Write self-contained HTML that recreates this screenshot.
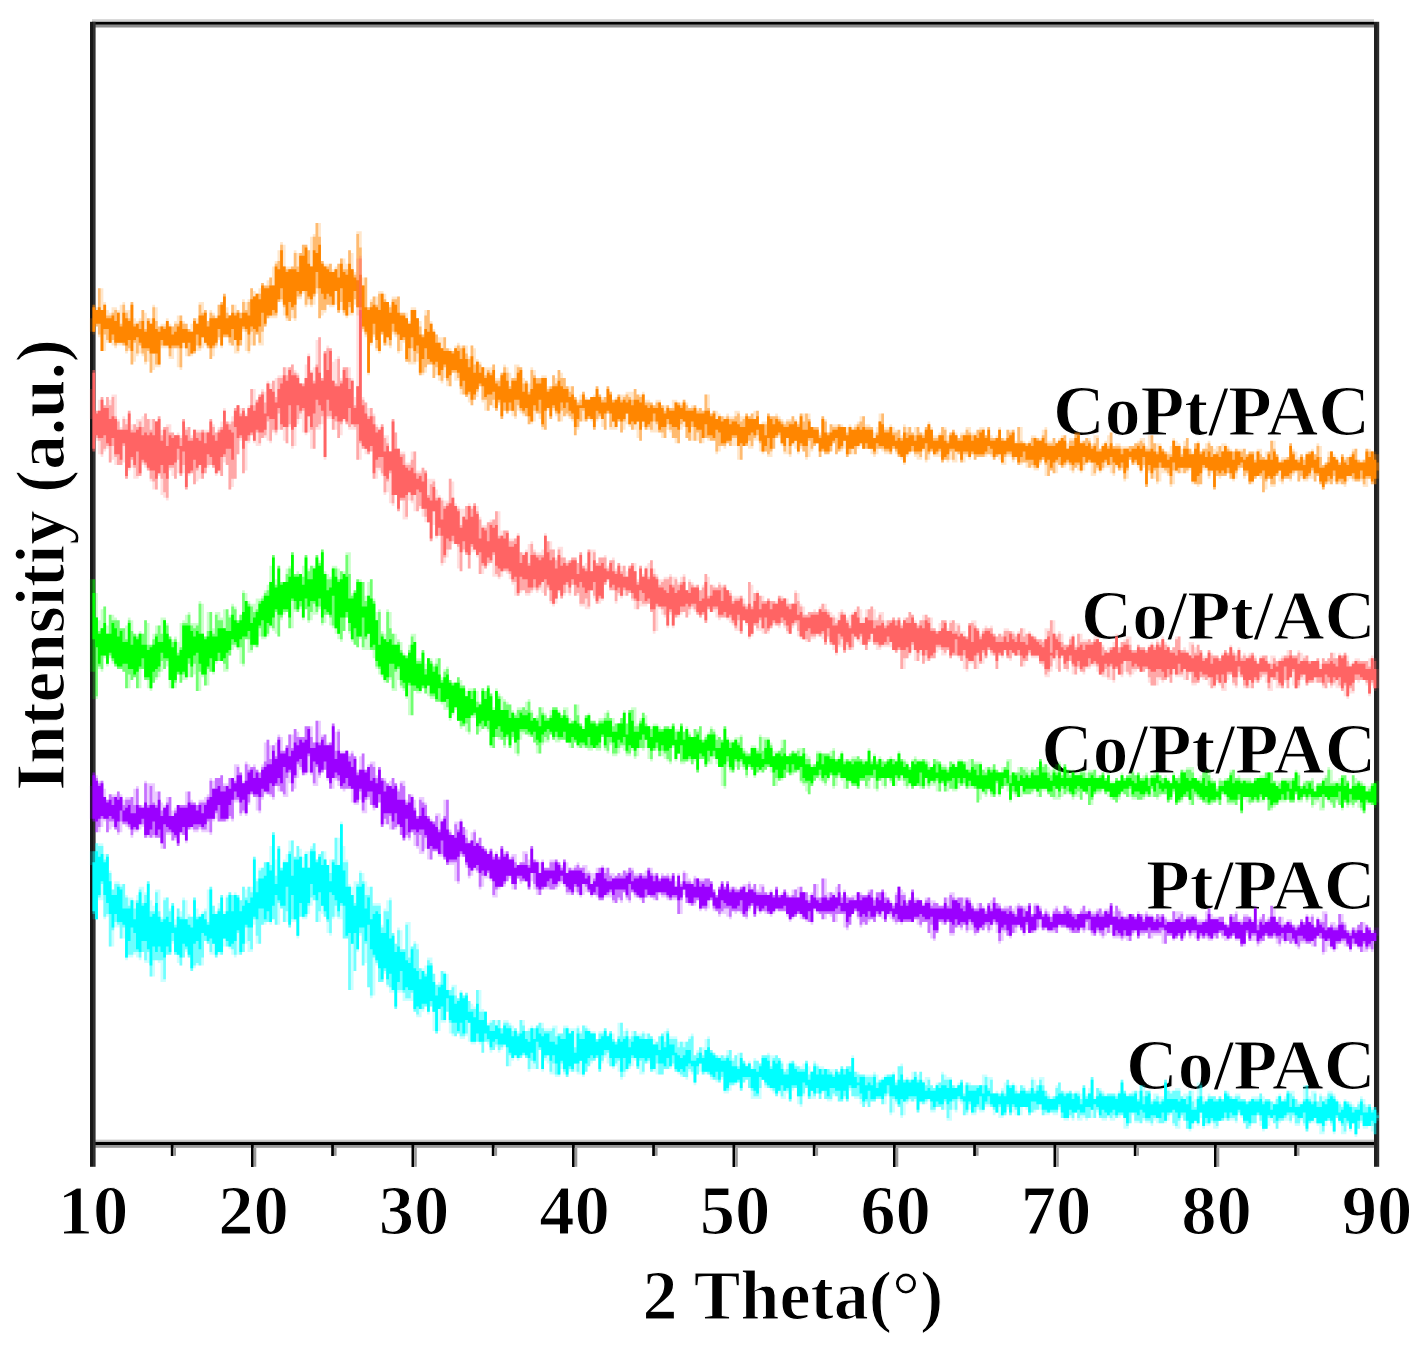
<!DOCTYPE html>
<html><head><meta charset="utf-8"><style>
html,body{margin:0;padding:0;background:#fff;overflow:hidden;}
svg{display:block;filter:blur(0.7px);}
text{font-family:"Liberation Serif",serif;font-weight:bold;stroke:#fff;stroke-width:1.2px;}
</style></head><body>
<svg width="1428" height="1352" viewBox="0 0 1428 1352">
<rect width="1428" height="1352" fill="#fff"/>
<g>
<rect x="92" y="19.2" width="1282" height="2.6" fill="#d2d2d2"/>
<rect x="92" y="21.8" width="1282" height="3" fill="#000"/>
<rect x="95" y="24.8" width="1279" height="2.7" fill="#8c8c8c"/>
<rect x="95" y="1139.6" width="1279" height="2.3" fill="#cacaca"/>
<rect x="92" y="1141.9" width="1282" height="3.1" fill="#000"/>
<rect x="95" y="1145" width="1279" height="2.8" fill="#9a9a9a"/>
<rect x="90" y="21.8" width="3" height="1145" fill="#181818"/>
<rect x="93" y="21.8" width="2.6" height="1145" fill="#303030"/>
<rect x="1374" y="21.8" width="3" height="1145" fill="#202020"/>
<rect x="1377" y="21.8" width="2.2" height="1145" fill="#2c2c2c"/>
</g>
<g><rect x="170.8" y="1145" width="2.7" height="11" fill="#000"/><rect x="173.4" y="1147.8" width="2.6" height="8" fill="#999"/><rect x="251.0" y="1145" width="2.7" height="22" fill="#000"/><rect x="253.7" y="1147.8" width="2.6" height="19" fill="#999"/><rect x="331.2" y="1145" width="2.7" height="11" fill="#000"/><rect x="334.0" y="1147.8" width="2.6" height="8" fill="#999"/><rect x="411.5" y="1145" width="2.7" height="22" fill="#000"/><rect x="414.2" y="1147.8" width="2.6" height="19" fill="#999"/><rect x="491.8" y="1145" width="2.7" height="11" fill="#000"/><rect x="494.5" y="1147.8" width="2.6" height="8" fill="#999"/><rect x="572.0" y="1145" width="2.7" height="22" fill="#000"/><rect x="574.7" y="1147.8" width="2.6" height="19" fill="#999"/><rect x="652.2" y="1145" width="2.7" height="11" fill="#000"/><rect x="655.0" y="1147.8" width="2.6" height="8" fill="#999"/><rect x="732.5" y="1145" width="2.7" height="22" fill="#000"/><rect x="735.2" y="1147.8" width="2.6" height="19" fill="#999"/><rect x="812.8" y="1145" width="2.7" height="11" fill="#000"/><rect x="815.5" y="1147.8" width="2.6" height="8" fill="#999"/><rect x="893.0" y="1145" width="2.7" height="22" fill="#000"/><rect x="895.7" y="1147.8" width="2.6" height="19" fill="#999"/><rect x="973.2" y="1145" width="2.7" height="11" fill="#000"/><rect x="976.0" y="1147.8" width="2.6" height="8" fill="#999"/><rect x="1053.5" y="1145" width="2.7" height="22" fill="#000"/><rect x="1056.2" y="1147.8" width="2.6" height="19" fill="#999"/><rect x="1133.8" y="1145" width="2.7" height="11" fill="#000"/><rect x="1136.4" y="1147.8" width="2.6" height="8" fill="#999"/><rect x="1214.0" y="1145" width="2.7" height="22" fill="#000"/><rect x="1216.7" y="1147.8" width="2.6" height="19" fill="#999"/><rect x="1294.2" y="1145" width="2.7" height="11" fill="#000"/><rect x="1296.9" y="1147.8" width="2.6" height="8" fill="#999"/></g>
<g text-anchor="end">
<text x="1370.1" y="434.5" font-size="71.7">CoPt/PAC</text>
<text x="1375.6" y="638.5" font-size="70.7">Co/Pt/AC</text>
<text x="1376.1" y="772.5" font-size="71.2">Co/Pt/PAC</text>
<text x="1375.6" y="909.0" font-size="71.7">Pt/PAC</text>
<text x="1375.6" y="1089.0" font-size="71.7">Co/PAC</text>
</g>
<g transform="scale(2.72)">
<g fill="#00FFFF"><path fill-opacity="0.20" d="M33 313h1V313h1V310h1V310h1V310h1V314h1V314h1V320h1V327h1V324h1V324h1V325h1V325h1V329h1V330h1V330h1V331h1V329h1V326h1V326h1V328h1V324h1V331h1V333h1V327h1V327h1V337h1V330h1V330h1V334h1V332h1V338h1V334h1V335h1V330h1V331h1V336h1V337h1V330h1V334h1V336h1V335h1V334h1V327h1V326h1V333h1V335h1V332h1V329h1V335h1V329h1V328h1V329h1V328h1V329h1V331h1V326h1V327h1V326h1V326h1V315h1V323h1V319h1V319h1V317h1V317h1V311h1V306h1V316h1V311h1V319h1V316h1V314h1V309h1V309h1V315h1V311h1V312h1V315h1V313h1V313h1V311h1V310h1V316h1V314h1V313h1V313h1V318h1V316h1V316h1V308h1V308h1V302h1V311h1V316h1V325h1V326h1V324h1V324h1V320h1V321h1V324h1V326h1V326h1V332h1V332h1V332h1V340h1V334h1V331h1V330h1V343h1V347h1V341h1V342h1V349h1V339h1V339h1V348h1V346h1V347h1V356h1V356h1V355h1V352h1V352h1V358h1V362h1V361h1V357h1V357h1V358h1V364h1V362h1V362h1V367h1V364h1V366h1V365h1V368h1V369h1V370h1V364h1V364h1V371h1V372h1V376h1V375h1V375h1V375h1V375h1V378h1V375h1V375h1V376h1V377h1V378h1V379h1V375h1V375h1V379h1V378h1V377h1V378h1V377h1V376h1V376h1V378h1V378h1V378h1V377h1V377h1V380h1V380h1V377h1V377h1V378h1V378h1V378h1V377h1V379h1V377h1V377h1V378h1V379h1V379h1V382h1V379h1V379h1V378h1V380h1V379h1V380h1V383h1V376h1V376h1V379h1V378h1V381h1V379h1V379h1V380h1V380h1V379h1V380h1V380h1V381h1V382h1V383h1V381h1V380h1V379h1V378h1V381h1V381h1V381h1V383h1V383h1V383h1V383h1V381h1V380h1V388h1V386h1V385h1V385h1V382h1V381h1V386h1V387h1V388h1V388h1V388h1V388h1V386h1V386h1V389h1V388h1V387h1V387h1V390h1V391h1V390h1V392h1V389h1V390h1V391h1V388h1V388h1V387h1V388h1V388h1V388h1V389h1V390h1V393h1V391h1V390h1V390h1V391h1V392h1V392h1V391h1V390h1V392h1V394h1V390h1V391h1V392h1V392h1V393h1V393h1V393h1V393h1V393h1V394h1V392h1V393h1V392h1V392h1V388h1V394h1V394h1V395h1V395h1V395h1V395h1V395h1V394h1V395h1V397h1V396h1V395h1V395h1V395h1V394h1V397h1V392h1V391h1V397h1V396h1V397h1V394h1V394h1V395h1V394h1V397h1V396h1V396h1V399h1V400h1V398h1V398h1V394h1V395h1V396h1V396h1V399h1V399h1V398h1V397h1V399h1V398h1V398h1V399h1V399h1V399h1V399h1V395h1V395h1V396h1V396h1V402h1V401h1V402h1V400h1V398h1V397h1V399h1V398h1V399h1V401h1V399h1V399h1V401h1V400h1V396h1V397h1V399h1V396h1V396h1V401h1V402h1V403h1V403h1V399h1V398h1V401h1V401h1V401h1V401h1V402h1V401h1V401h1V402h1V399h1V402h1V400h1V396h1V403h1V400h1V400h1V401h1V402h1V402h1V402h1V402h1V402h1V401h1V397h1V401h1V402h1V402h1V401h1V401h1V401h1V399h1V399h1V401h1V401h1V404h1V402h1V402h1V403h1V403h1V397h1V400h1V401h1V401h1V400h1V400h1V403h1V402h1V402h1V401h1V401h1V404h1V398h1V398h1V403h1V404h1V402h1V403h1V403h1V404h1V403h1V404h1V401h1V401h1V403h1V403h1V402h1V402h1V404h1V404h1V405h1V404h1V403h1V403h1V403h1V402h1V403h1V404h1V404h1V405h1V405h1V403h1V402h1V404h1V403h1V401h1V401h1V401h1V404h1V405h1V405h1V399h1V399h1V403h1V401h1V401h1V405h1V402h1V403h1V403h1V401h1V401h1V402h1V404h1V405h1V406h1V404h1V405h1V405h1V406h1V407h1V405h1V403h1V404h1V406h1V406h1V407h1V407h1V409h1V412h-1V417h-1V416h-1V414h-1V415h-1V415h-1V413h-1V415h-1V418h-1V413h-1V416h-1V414h-1V417h-1V417h-1V413h-1V411h-1V417h-1V414h-1V412h-1V414h-1V417h-1V417h-1V414h-1V413h-1V413h-1V413h-1V416h-1V414h-1V412h-1V414h-1V414h-1V411h-1V413h-1V412h-1V412h-1V412h-1V413h-1V415h-1V413h-1V412h-1V414h-1V415h-1V416h-1V414h-1V410h-1V413h-1V413h-1V415h-1V415h-1V413h-1V411h-1V410h-1V413h-1V412h-1V412h-1V412h-1V412h-1V412h-1V412h-1V415h-1V415h-1V413h-1V414h-1V414h-1V415h-1V411h-1V414h-1V413h-1V415h-1V416h-1V415h-1V412h-1V411h-1V415h-1V415h-1V414h-1V410h-1V412h-1V413h-1V413h-1V413h-1V413h-1V412h-1V414h-1V413h-1V413h-1V412h-1V413h-1V413h-1V413h-1V410h-1V413h-1V415h-1V415h-1V410h-1V411h-1V411h-1V412h-1V412h-1V411h-1V412h-1V412h-1V411h-1V409h-1V411h-1V411h-1V411h-1V412h-1V411h-1V412h-1V412h-1V409h-1V412h-1V411h-1V412h-1V412h-1V411h-1V408h-1V410h-1V410h-1V409h-1V410h-1V410h-1V410h-1V408h-1V408h-1V409h-1V409h-1V410h-1V408h-1V407h-1V410h-1V410h-1V410h-1V409h-1V410h-1V408h-1V410h-1V411h-1V411h-1V409h-1V410h-1V407h-1V407h-1V407h-1V409h-1V409h-1V408h-1V410h-1V410h-1V408h-1V410h-1V410h-1V406h-1V405h-1V409h-1V408h-1V412h-1V412h-1V408h-1V408h-1V407h-1V407h-1V409h-1V409h-1V405h-1V406h-1V406h-1V406h-1V409h-1V405h-1V405h-1V405h-1V406h-1V410h-1V411h-1V407h-1V406h-1V409h-1V410h-1V403h-1V406h-1V406h-1V404h-1V404h-1V405h-1V405h-1V407h-1V406h-1V407h-1V406h-1V404h-1V404h-1V403h-1V401h-1V405h-1V404h-1V405h-1V405h-1V403h-1V403h-1V405h-1V405h-1V404h-1V402h-1V404h-1V402h-1V404h-1V404h-1V404h-1V400h-1V403h-1V407h-1V406h-1V400h-1V401h-1V405h-1V402h-1V404h-1V404h-1V402h-1V403h-1V402h-1V401h-1V400h-1V400h-1V397h-1V404h-1V404h-1V404h-1V404h-1V400h-1V397h-1V398h-1V401h-1V398h-1V399h-1V399h-1V401h-1V402h-1V402h-1V397h-1V398h-1V398h-1V397h-1V397h-1V395h-1V395h-1V395h-1V394h-1V395h-1V399h-1V395h-1V394h-1V397h-1V396h-1V396h-1V395h-1V394h-1V392h-1V393h-1V393h-1V393h-1V395h-1V395h-1V395h-1V394h-1V394h-1V391h-1V391h-1V395h-1V395h-1V393h-1V390h-1V392h-1V393h-1V394h-1V396h-1V397h-1V394h-1V392h-1V393h-1V392h-1V391h-1V389h-1V391h-1V394h-1V389h-1V390h-1V391h-1V392h-1V394h-1V396h-1V395h-1V395h-1V394h-1V394h-1V394h-1V396h-1V395h-1V393h-1V396h-1V396h-1V395h-1V395h-1V391h-1V390h-1V394h-1V386h-1V393h-1V393h-1V393h-1V394h-1V389h-1V388h-1V389h-1V390h-1V389h-1V390h-1V392h-1V392h-1V385h-1V386h-1V387h-1V385h-1V386h-1V387h-1V384h-1V383h-1V387h-1V384h-1V383h-1V384h-1V384h-1V383h-1V381h-1V382h-1V382h-1V380h-1V381h-1V381h-1V380h-1V372h-1V376h-1V376h-1V379h-1V380h-1V379h-1V370h-1V373h-1V370h-1V372h-1V374h-1V374h-1V372h-1V368h-1V368h-1V368h-1V368h-1V365h-1V365h-1V371h-1V365h-1V365h-1V363h-1V358h-1V361h-1V361h-1V355h-1V366h-1V367h-1V363h-1V354h-1V355h-1V344h-1V350h-1V357h-1V364h-1V364h-1V345h-1V345h-1V338h-1V338h-1V337h-1V338h-1V344h-1V343h-1V337h-1V336h-1V339h-1V339h-1V331h-1V333h-1V336h-1V338h-1V338h-1V337h-1V345h-1V339h-1V339h-1V341h-1V339h-1V339h-1V334h-1V340h-1V340h-1V338h-1V340h-1V339h-1V340h-1V340h-1V347h-1V347h-1V340h-1V350h-1V350h-1V347h-1V350h-1V351h-1V351h-1V352h-1V351h-1V349h-1V348h-1V348h-1V351h-1V351h-1V352h-1V351h-1V351h-1V347h-1V346h-1V355h-1V355h-1V355h-1V356h-1V357h-1V352h-1V350h-1V352h-1V355h-1V354h-1V351h-1V347h-1V351h-1V351h-1V361h-1V361h-1V354h-1V353h-1V359h-1V359h-1V354h-1V354h-1V350h-1V353h-1V352h-1V351h-1V352h-1V352h-1V353h-1V345h-1V345h-1V341h-1V341h-1V348h-1V348h-1V337h-1V338h-1V331h-1V331h-1V338h-1V338h-1V318h-1Z"/><path fill-opacity="0.45" d="M34 313h1V310h1V311h1V311h1V316h1V314h1V321h1V327h1V325h1V325h1V326h1V325h1V330h1V333h1V331h1V334h1V331h1V327h1V332h1V329h1V324h1V335h1V335h1V328h1V335h1V338h1V331h1V330h1V335h1V332h1V340h1V334h1V337h1V331h1V338h1V337h1V337h1V330h1V337h1V337h1V336h1V335h1V339h1V326h1V333h1V336h1V334h1V329h1V336h1V330h1V328h1V329h1V329h1V329h1V331h1V326h1V330h1V326h1V328h1V315h1V324h1V320h1V319h1V317h1V317h1V318h1V306h1V322h1V311h1V319h1V317h1V317h1V313h1V309h1V315h1V311h1V315h1V319h1V314h1V319h1V312h1V310h1V316h1V314h1V313h1V316h1V318h1V321h1V316h1V308h1V318h1V303h1V317h1V317h1V326h1V329h1V332h1V325h1V321h1V324h1V329h1V329h1V326h1V333h1V333h1V333h1V341h1V335h1V335h1V331h1V343h1V347h1V342h1V349h1V349h1V340h1V352h1V348h1V347h1V349h1V356h1V357h1V358h1V353h1V354h1V358h1V362h1V362h1V357h1V358h1V364h1V364h1V363h1V366h1V367h1V365h1V366h1V365h1V368h1V371h1V371h1V364h1V372h1V372h1V372h1V377h1V376h1V375h1V377h1V375h1V378h1V376h1V376h1V377h1V379h1V378h1V380h1V375h1V377h1V379h1V379h1V378h1V378h1V377h1V376h1V378h1V379h1V379h1V379h1V378h1V381h1V380h1V380h1V378h1V378h1V380h1V379h1V385h1V378h1V380h1V377h1V378h1V379h1V380h1V380h1V382h1V380h1V380h1V378h1V381h1V379h1V382h1V383h1V381h1V376h1V381h1V379h1V382h1V381h1V379h1V381h1V381h1V380h1V382h1V380h1V381h1V384h1V383h1V381h1V380h1V383h1V379h1V382h1V382h1V382h1V385h1V383h1V385h1V383h1V382h1V381h1V388h1V387h1V385h1V388h1V386h1V382h1V386h1V387h1V388h1V389h1V388h1V389h1V388h1V386h1V390h1V388h1V392h1V387h1V390h1V392h1V391h1V393h1V390h1V390h1V391h1V388h1V388h1V388h1V392h1V389h1V388h1V389h1V391h1V394h1V393h1V391h1V390h1V392h1V392h1V393h1V393h1V390h1V395h1V394h1V391h1V392h1V393h1V393h1V393h1V393h1V394h1V395h1V393h1V394h1V392h1V393h1V392h1V392h1V389h1V394h1V395h1V395h1V395h1V396h1V396h1V396h1V395h1V398h1V397h1V397h1V396h1V395h1V395h1V395h1V398h1V392h1V392h1V397h1V397h1V397h1V397h1V394h1V397h1V394h1V398h1V399h1V397h1V399h1V400h1V399h1V398h1V395h1V397h1V397h1V397h1V399h1V400h1V399h1V397h1V402h1V398h1V399h1V399h1V399h1V399h1V399h1V399h1V396h1V400h1V397h1V402h1V402h1V402h1V401h1V402h1V397h1V399h1V399h1V401h1V402h1V399h1V400h1V401h1V401h1V397h1V401h1V399h1V397h1V399h1V401h1V403h1V404h1V403h1V400h1V398h1V401h1V402h1V402h1V401h1V402h1V402h1V402h1V404h1V399h1V403h1V402h1V396h1V404h1V400h1V401h1V402h1V403h1V402h1V402h1V402h1V403h1V402h1V397h1V401h1V403h1V402h1V402h1V401h1V404h1V399h1V403h1V401h1V401h1V405h1V404h1V403h1V405h1V404h1V397h1V401h1V402h1V401h1V401h1V401h1V403h1V404h1V403h1V401h1V405h1V407h1V403h1V399h1V405h1V405h1V403h1V403h1V403h1V404h1V403h1V404h1V401h1V402h1V403h1V404h1V403h1V403h1V404h1V404h1V405h1V405h1V404h1V404h1V404h1V402h1V405h1V404h1V404h1V405h1V406h1V404h1V403h1V405h1V404h1V401h1V402h1V403h1V404h1V406h1V406h1V404h1V399h1V404h1V405h1V402h1V405h1V403h1V405h1V404h1V402h1V402h1V403h1V405h1V406h1V407h1V405h1V405h1V406h1V407h1V407h1V406h1V404h1V406h1V407h1V406h1V408h1V407h1V410h1V411h-1V417h-1V414h-1V414h-1V414h-1V414h-1V412h-1V415h-1V417h-1V413h-1V415h-1V413h-1V416h-1V414h-1V412h-1V411h-1V416h-1V413h-1V412h-1V412h-1V416h-1V413h-1V413h-1V411h-1V412h-1V413h-1V416h-1V413h-1V411h-1V413h-1V413h-1V410h-1V412h-1V410h-1V411h-1V412h-1V412h-1V415h-1V413h-1V411h-1V411h-1V415h-1V415h-1V412h-1V410h-1V413h-1V413h-1V414h-1V415h-1V413h-1V410h-1V409h-1V412h-1V411h-1V411h-1V412h-1V411h-1V412h-1V412h-1V414h-1V413h-1V412h-1V413h-1V413h-1V414h-1V409h-1V413h-1V412h-1V413h-1V415h-1V415h-1V412h-1V410h-1V412h-1V414h-1V413h-1V409h-1V410h-1V412h-1V413h-1V413h-1V411h-1V411h-1V413h-1V412h-1V412h-1V411h-1V413h-1V412h-1V412h-1V409h-1V413h-1V414h-1V411h-1V410h-1V410h-1V411h-1V410h-1V411h-1V410h-1V411h-1V411h-1V411h-1V408h-1V411h-1V408h-1V411h-1V411h-1V410h-1V410h-1V411h-1V409h-1V411h-1V410h-1V411h-1V411h-1V411h-1V407h-1V409h-1V409h-1V409h-1V409h-1V409h-1V410h-1V406h-1V408h-1V408h-1V409h-1V410h-1V407h-1V407h-1V407h-1V410h-1V408h-1V407h-1V410h-1V407h-1V410h-1V410h-1V407h-1V409h-1V408h-1V407h-1V406h-1V406h-1V408h-1V408h-1V407h-1V409h-1V409h-1V406h-1V409h-1V410h-1V405h-1V404h-1V408h-1V405h-1V408h-1V411h-1V405h-1V408h-1V407h-1V407h-1V408h-1V408h-1V404h-1V405h-1V406h-1V405h-1V409h-1V404h-1V405h-1V404h-1V405h-1V405h-1V410h-1V407h-1V405h-1V404h-1V409h-1V402h-1V403h-1V406h-1V404h-1V404h-1V405h-1V405h-1V407h-1V405h-1V407h-1V404h-1V403h-1V403h-1V403h-1V400h-1V405h-1V403h-1V405h-1V405h-1V403h-1V402h-1V404h-1V404h-1V404h-1V401h-1V404h-1V402h-1V403h-1V401h-1V404h-1V400h-1V402h-1V406h-1V403h-1V400h-1V400h-1V405h-1V401h-1V401h-1V403h-1V401h-1V403h-1V401h-1V400h-1V400h-1V399h-1V397h-1V400h-1V403h-1V403h-1V401h-1V400h-1V397h-1V398h-1V401h-1V398h-1V398h-1V399h-1V399h-1V401h-1V401h-1V396h-1V398h-1V397h-1V397h-1V396h-1V395h-1V394h-1V395h-1V391h-1V395h-1V398h-1V394h-1V393h-1V396h-1V396h-1V395h-1V394h-1V394h-1V391h-1V392h-1V393h-1V393h-1V395h-1V395h-1V391h-1V393h-1V394h-1V390h-1V391h-1V394h-1V390h-1V393h-1V389h-1V389h-1V392h-1V393h-1V394h-1V396h-1V390h-1V391h-1V392h-1V392h-1V387h-1V388h-1V390h-1V394h-1V389h-1V390h-1V390h-1V392h-1V394h-1V395h-1V390h-1V394h-1V391h-1V394h-1V393h-1V396h-1V394h-1V391h-1V395h-1V395h-1V391h-1V394h-1V388h-1V389h-1V393h-1V386h-1V393h-1V391h-1V390h-1V393h-1V389h-1V388h-1V389h-1V389h-1V388h-1V389h-1V388h-1V392h-1V384h-1V385h-1V386h-1V384h-1V386h-1V386h-1V383h-1V383h-1V387h-1V383h-1V383h-1V383h-1V383h-1V376h-1V380h-1V381h-1V381h-1V380h-1V381h-1V380h-1V376h-1V372h-1V375h-1V375h-1V371h-1V380h-1V372h-1V370h-1V372h-1V370h-1V371h-1V371h-1V373h-1V372h-1V365h-1V367h-1V367h-1V365h-1V364h-1V364h-1V371h-1V364h-1V363h-1V362h-1V357h-1V361h-1V361h-1V354h-1V352h-1V366h-1V363h-1V347h-1V355h-1V343h-1V349h-1V357h-1V347h-1V364h-1V345h-1V345h-1V333h-1V337h-1V333h-1V337h-1V343h-1V339h-1V337h-1V333h-1V335h-1V339h-1V331h-1V330h-1V333h-1V337h-1V337h-1V337h-1V344h-1V338h-1V338h-1V341h-1V335h-1V339h-1V334h-1V332h-1V340h-1V338h-1V339h-1V339h-1V339h-1V340h-1V347h-1V344h-1V338h-1V349h-1V346h-1V341h-1V350h-1V351h-1V343h-1V351h-1V349h-1V348h-1V348h-1V345h-1V351h-1V350h-1V352h-1V347h-1V350h-1V347h-1V346h-1V352h-1V355h-1V354h-1V355h-1V357h-1V352h-1V349h-1V352h-1V355h-1V351h-1V351h-1V346h-1V351h-1V351h-1V360h-1V353h-1V353h-1V353h-1V353h-1V359h-1V350h-1V353h-1V350h-1V352h-1V350h-1V350h-1V351h-1V351h-1V352h-1V341h-1V345h-1V340h-1V339h-1V342h-1V348h-1V336h-1V337h-1V325h-1V330h-1V338h-1V336h-1Z"/><path d="M34 317h1V313h1V315h1V314h1V317h1V315h1V324h1V329h1V329h1V326h1V327h1V334h1V334h1V334h1V331h1V338h1V332h1V328h1V333h1V332h1V325h1V337h1V336h1V332h1V337h1V339h1V338h1V337h1V339h1V333h1V341h1V337h1V338h1V338h1V338h1V340h1V341h1V331h1V338h1V337h1V336h1V338h1V340h1V327h1V336h1V336h1V335h1V330h1V336h1V335h1V329h1V335h1V329h1V330h1V335h1V333h1V331h1V332h1V330h1V316h1V328h1V323h1V323h1V322h1V317h1V320h1V307h1V325h1V312h1V320h1V317h1V317h1V314h1V322h1V316h1V316h1V315h1V319h1V314h1V319h1V313h1V313h1V317h1V315h1V318h1V316h1V318h1V324h1V317h1V318h1V318h1V303h1V320h1V326h1V326h1V329h1V333h1V326h1V326h1V325h1V334h1V330h1V338h1V336h1V335h1V336h1V343h1V343h1V338h1V345h1V344h1V350h1V348h1V350h1V350h1V353h1V354h1V349h1V356h1V357h1V360h1V357h1V359h1V355h1V355h1V361h1V366h1V363h1V362h1V358h1V364h1V366h1V366h1V369h1V368h1V365h1V367h1V366h1V372h1V372h1V374h1V369h1V375h1V375h1V372h1V377h1V379h1V379h1V377h1V378h1V380h1V377h1V378h1V378h1V381h1V379h1V381h1V380h1V379h1V382h1V383h1V378h1V382h1V378h1V380h1V381h1V380h1V380h1V383h1V383h1V384h1V381h1V382h1V382h1V378h1V380h1V379h1V387h1V380h1V382h1V382h1V379h1V379h1V380h1V380h1V383h1V382h1V381h1V379h1V381h1V380h1V383h1V384h1V382h1V383h1V382h1V381h1V385h1V383h1V381h1V381h1V382h1V382h1V382h1V382h1V382h1V384h1V384h1V386h1V381h1V385h1V380h1V384h1V384h1V387h1V388h1V389h1V388h1V386h1V386h1V390h1V390h1V389h1V387h1V389h1V386h1V385h1V387h1V388h1V389h1V389h1V390h1V390h1V389h1V390h1V392h1V392h1V393h1V389h1V391h1V392h1V391h1V393h1V393h1V394h1V392h1V389h1V389h1V390h1V393h1V390h1V391h1V390h1V393h1V395h1V395h1V391h1V391h1V393h1V394h1V394h1V394h1V391h1V397h1V394h1V392h1V395h1V393h1V395h1V393h1V395h1V395h1V396h1V394h1V395h1V393h1V395h1V393h1V394h1V389h1V396h1V398h1V396h1V396h1V399h1V398h1V399h1V396h1V400h1V398h1V397h1V396h1V396h1V396h1V395h1V399h1V397h1V395h1V398h1V397h1V398h1V397h1V396h1V398h1V397h1V398h1V401h1V400h1V401h1V401h1V399h1V400h1V399h1V399h1V400h1V397h1V400h1V400h1V399h1V398h1V403h1V399h1V401h1V401h1V401h1V400h1V399h1V402h1V399h1V401h1V402h1V402h1V402h1V403h1V402h1V403h1V399h1V400h1V399h1V402h1V402h1V401h1V401h1V402h1V402h1V400h1V402h1V401h1V399h1V401h1V403h1V404h1V404h1V404h1V403h1V402h1V402h1V403h1V402h1V402h1V404h1V402h1V403h1V406h1V400h1V404h1V402h1V397h1V404h1V403h1V402h1V403h1V403h1V403h1V403h1V403h1V404h1V402h1V398h1V402h1V403h1V403h1V403h1V402h1V405h1V401h1V406h1V403h1V402h1V406h1V405h1V405h1V406h1V405h1V398h1V404h1V404h1V404h1V404h1V405h1V404h1V404h1V406h1V403h1V408h1V408h1V404h1V403h1V406h1V405h1V404h1V404h1V405h1V405h1V404h1V405h1V402h1V403h1V404h1V404h1V404h1V405h1V405h1V405h1V406h1V405h1V404h1V405h1V405h1V404h1V406h1V405h1V405h1V408h1V406h1V406h1V403h1V405h1V405h1V402h1V407h1V404h1V407h1V407h1V406h1V405h1V404h1V405h1V406h1V405h1V407h1V407h1V405h1V406h1V404h1V403h1V404h1V405h1V409h1V408h1V405h1V406h1V407h1V409h1V408h1V408h1V405h1V409h1V409h1V407h1V409h1V408h1V413h-1V412h-1V414h-1V414h-1V414h-1V410h-1V412h-1V417h-1V413h-1V415h-1V412h-1V411h-1V413h-1V412h-1V410h-1V416h-1V412h-1V411h-1V412h-1V414h-1V413h-1V413h-1V411h-1V412h-1V412h-1V415h-1V409h-1V411h-1V411h-1V410h-1V409h-1V409h-1V409h-1V410h-1V411h-1V411h-1V412h-1V410h-1V411h-1V410h-1V415h-1V415h-1V410h-1V409h-1V410h-1V410h-1V413h-1V412h-1V412h-1V410h-1V408h-1V410h-1V410h-1V409h-1V411h-1V409h-1V411h-1V412h-1V412h-1V412h-1V411h-1V413h-1V411h-1V414h-1V409h-1V413h-1V412h-1V413h-1V415h-1V412h-1V409h-1V409h-1V411h-1V409h-1V408h-1V409h-1V409h-1V412h-1V409h-1V411h-1V411h-1V410h-1V410h-1V411h-1V411h-1V409h-1V408h-1V410h-1V409h-1V409h-1V409h-1V413h-1V411h-1V409h-1V409h-1V410h-1V408h-1V409h-1V410h-1V409h-1V408h-1V410h-1V407h-1V406h-1V408h-1V407h-1V407h-1V409h-1V409h-1V408h-1V409h-1V409h-1V408h-1V411h-1V411h-1V409h-1V406h-1V408h-1V408h-1V408h-1V409h-1V408h-1V408h-1V406h-1V406h-1V405h-1V405h-1V409h-1V407h-1V407h-1V407h-1V410h-1V407h-1V406h-1V409h-1V406h-1V409h-1V410h-1V406h-1V409h-1V407h-1V406h-1V403h-1V405h-1V408h-1V403h-1V406h-1V407h-1V409h-1V405h-1V408h-1V405h-1V404h-1V403h-1V404h-1V404h-1V405h-1V406h-1V404h-1V406h-1V406h-1V405h-1V407h-1V405h-1V404h-1V404h-1V405h-1V405h-1V408h-1V403h-1V403h-1V403h-1V404h-1V405h-1V404h-1V406h-1V404h-1V403h-1V403h-1V399h-1V402h-1V404h-1V403h-1V403h-1V404h-1V404h-1V401h-1V404h-1V405h-1V402h-1V399h-1V400h-1V400h-1V399h-1V404h-1V401h-1V404h-1V401h-1V401h-1V400h-1V400h-1V403h-1V401h-1V401h-1V402h-1V400h-1V402h-1V401h-1V403h-1V399h-1V398h-1V403h-1V403h-1V399h-1V399h-1V404h-1V400h-1V401h-1V399h-1V401h-1V402h-1V400h-1V400h-1V399h-1V398h-1V397h-1V396h-1V402h-1V401h-1V400h-1V396h-1V396h-1V396h-1V400h-1V397h-1V398h-1V398h-1V398h-1V400h-1V401h-1V394h-1V397h-1V394h-1V396h-1V395h-1V394h-1V394h-1V394h-1V391h-1V392h-1V398h-1V392h-1V391h-1V392h-1V394h-1V393h-1V394h-1V393h-1V388h-1V392h-1V389h-1V392h-1V391h-1V391h-1V388h-1V393h-1V393h-1V389h-1V390h-1V389h-1V389h-1V392h-1V389h-1V388h-1V391h-1V393h-1V389h-1V394h-1V389h-1V389h-1V392h-1V389h-1V386h-1V386h-1V388h-1V393h-1V388h-1V389h-1V388h-1V389h-1V391h-1V395h-1V390h-1V391h-1V391h-1V393h-1V392h-1V395h-1V393h-1V390h-1V395h-1V391h-1V388h-1V390h-1V388h-1V388h-1V393h-1V385h-1V383h-1V390h-1V387h-1V389h-1V388h-1V387h-1V388h-1V389h-1V388h-1V389h-1V387h-1V385h-1V384h-1V384h-1V384h-1V382h-1V383h-1V385h-1V382h-1V380h-1V383h-1V383h-1V380h-1V383h-1V383h-1V376h-1V375h-1V380h-1V376h-1V379h-1V376h-1V376h-1V375h-1V367h-1V375h-1V370h-1V371h-1V379h-1V372h-1V368h-1V372h-1V369h-1V369h-1V371h-1V370h-1V371h-1V364h-1V364h-1V363h-1V364h-1V357h-1V361h-1V370h-1V364h-1V358h-1V360h-1V356h-1V360h-1V356h-1V353h-1V351h-1V349h-1V340h-1V346h-1V341h-1V341h-1V349h-1V343h-1V347h-1V343h-1V344h-1V333h-1V332h-1V335h-1V331h-1V329h-1V328h-1V338h-1V335h-1V333h-1V328h-1V331h-1V329h-1V325h-1V332h-1V336h-1V337h-1V332h-1V344h-1V338h-1V329h-1V340h-1V326h-1V333h-1V333h-1V331h-1V329h-1V333h-1V339h-1V335h-1V338h-1V334h-1V334h-1V338h-1V337h-1V341h-1V341h-1V340h-1V347h-1V350h-1V342h-1V346h-1V347h-1V348h-1V346h-1V345h-1V350h-1V350h-1V351h-1V347h-1V345h-1V346h-1V344h-1V343h-1V349h-1V346h-1V347h-1V356h-1V351h-1V348h-1V347h-1V352h-1V351h-1V350h-1V343h-1V350h-1V348h-1V352h-1V350h-1V348h-1V350h-1V348h-1V355h-1V349h-1V346h-1V346h-1V350h-1V349h-1V343h-1V341h-1V346h-1V352h-1V340h-1V339h-1V339h-1V336h-1V341h-1V336h-1V332h-1V329h-1V324h-1V329h-1V338h-1V335h-1Z"/></g>
<g fill="#9B00FF"><path fill-opacity="0.20" d="M33 289h1V284h1V285h1V287h1V287h1V290h1V294h1V292h1V292h1V292h1V291h1V292h1V294h1V293h1V293h1V293h1V290h1V289h1V296h1V296h1V287h1V288h1V288h1V288h1V291h1V291h1V295h1V296h1V293h1V293h1V298h1V297h1V296h1V296h1V296h1V291h1V291h1V294h1V295h1V296h1V294h1V294h1V293h1V292h1V286h1V287h1V286h1V286h1V285h1V288h1V288h1V286h1V286h1V281h1V281h1V284h1V287h1V280h1V281h1V282h1V281h1V283h1V284h1V281h1V273h1V272h1V274h1V274h1V273h1V270h1V271h1V276h1V274h1V270h1V270h1V268h1V269h1V271h1V271h1V267h1V267h1V267h1V273h1V265h1V265h1V270h1V270h1V273h1V273h1V266h1V269h1V268h1V276h1V276h1V276h1V277h1V276h1V278h1V283h1V278h1V277h1V283h1V281h1V280h1V280h1V285h1V282h1V286h1V286h1V288h1V287h1V286h1V288h1V290h1V287h1V287h1V294h1V292h1V292h1V294h1V300h1V293h1V293h1V295h1V300h1V301h1V302h1V299h1V299h1V301h1V294h1V294h1V305h1V307h1V302h1V302h1V301h1V304h1V305h1V309h1V306h1V305h1V309h1V308h1V311h1V312h1V313h1V312h1V314h1V313h1V315h1V311h1V313h1V313h1V315h1V314h1V314h1V318h1V317h1V313h1V313h1V316h1V311h1V316h1V316h1V317h1V316h1V319h1V319h1V316h1V316h1V316h1V317h1V318h1V316h1V317h1V319h1V319h1V318h1V317h1V319h1V318h1V318h1V320h1V321h1V321h1V319h1V319h1V318h1V319h1V319h1V321h1V321h1V322h1V321h1V321h1V320h1V320h1V319h1V319h1V321h1V321h1V321h1V321h1V320h1V319h1V319h1V321h1V321h1V323h1V321h1V322h1V321h1V322h1V321h1V324h1V321h1V324h1V320h1V321h1V323h1V324h1V322h1V323h1V323h1V323h1V323h1V323h1V324h1V327h1V329h1V326h1V324h1V326h1V324h1V326h1V326h1V326h1V327h1V326h1V325h1V325h1V324h1V326h1V325h1V327h1V325h1V325h1V328h1V328h1V327h1V329h1V326h1V329h1V328h1V327h1V328h1V329h1V327h1V327h1V326h1V326h1V328h1V328h1V329h1V328h1V325h1V325h1V330h1V323h1V323h1V328h1V328h1V328h1V326h1V325h1V329h1V327h1V329h1V330h1V329h1V329h1V328h1V328h1V329h1V329h1V327h1V327h1V330h1V328h1V328h1V327h1V328h1V330h1V331h1V332h1V328h1V326h1V327h1V328h1V331h1V330h1V327h1V330h1V330h1V331h1V332h1V330h1V330h1V331h1V331h1V332h1V333h1V333h1V330h1V330h1V328h1V328h1V330h1V330h1V330h1V330h1V330h1V330h1V332h1V334h1V332h1V332h1V333h1V334h1V332h1V331h1V330h1V332h1V332h1V334h1V333h1V333h1V333h1V334h1V333h1V332h1V333h1V333h1V333h1V332h1V336h1V332h1V332h1V333h1V336h1V334h1V335h1V337h1V334h1V333h1V335h1V335h1V333h1V333h1V334h1V335h1V336h1V336h1V334h1V333h1V335h1V334h1V335h1V335h1V334h1V334h1V335h1V334h1V334h1V332h1V335h1V333h1V334h1V335h1V337h1V336h1V336h1V336h1V337h1V335h1V336h1V336h1V335h1V336h1V336h1V337h1V336h1V336h1V336h1V337h1V338h1V338h1V335h1V335h1V335h1V335h1V338h1V336h1V336h1V336h1V336h1V338h1V338h1V338h1V335h1V334h1V336h1V337h1V337h1V337h1V337h1V339h1V340h1V336h1V336h1V335h1V338h1V338h1V336h1V336h1V337h1V338h1V333h1V338h1V337h1V336h1V338h1V337h1V333h1V334h1V338h1V337h1V337h1V339h1V338h1V338h1V340h1V340h1V340h1V338h1V339h1V336h1V337h1V336h1V340h1V337h1V338h1V335h1V335h1V341h1V339h1V339h1V340h1V336h1V336h1V339h1V342h1V342h1V341h1V341h1V340h1V339h1V339h1V340h1V341h1V342h1V341h1V341h1V344h-1V347h-1V350h-1V349h-1V350h-1V350h-1V350h-1V349h-1V348h-1V348h-1V350h-1V348h-1V348h-1V347h-1V347h-1V349h-1V350h-1V349h-1V348h-1V350h-1V351h-1V345h-1V345h-1V348h-1V348h-1V347h-1V347h-1V347h-1V347h-1V349h-1V348h-1V347h-1V347h-1V346h-1V347h-1V346h-1V348h-1V347h-1V345h-1V345h-1V345h-1V344h-1V346h-1V347h-1V348h-1V346h-1V346h-1V346h-1V344h-1V348h-1V348h-1V346h-1V346h-1V344h-1V345h-1V346h-1V346h-1V345h-1V343h-1V345h-1V345h-1V346h-1V346h-1V345h-1V345h-1V345h-1V346h-1V345h-1V344h-1V345h-1V343h-1V345h-1V346h-1V344h-1V345h-1V346h-1V344h-1V344h-1V347h-1V347h-1V344h-1V344h-1V344h-1V345h-1V345h-1V343h-1V344h-1V344h-1V345h-1V343h-1V344h-1V346h-1V346h-1V345h-1V346h-1V345h-1V345h-1V345h-1V343h-1V343h-1V344h-1V345h-1V344h-1V343h-1V344h-1V344h-1V342h-1V342h-1V343h-1V342h-1V343h-1V343h-1V343h-1V343h-1V342h-1V341h-1V341h-1V341h-1V343h-1V343h-1V343h-1V343h-1V342h-1V342h-1V341h-1V342h-1V343h-1V343h-1V343h-1V342h-1V344h-1V342h-1V341h-1V343h-1V343h-1V345h-1V344h-1V343h-1V346h-1V347h-1V343h-1V340h-1V342h-1V343h-1V341h-1V342h-1V342h-1V343h-1V344h-1V342h-1V342h-1V343h-1V340h-1V342h-1V341h-1V341h-1V344h-1V344h-1V339h-1V340h-1V340h-1V339h-1V343h-1V346h-1V345h-1V343h-1V339h-1V339h-1V341h-1V340h-1V338h-1V339h-1V339h-1V339h-1V339h-1V340h-1V339h-1V340h-1V339h-1V338h-1V337h-1V339h-1V338h-1V337h-1V337h-1V339h-1V338h-1V339h-1V340h-1V340h-1V341h-1V338h-1V335h-1V336h-1V340h-1V342h-1V341h-1V336h-1V336h-1V339h-1V339h-1V337h-1V336h-1V338h-1V338h-1V336h-1V336h-1V335h-1V340h-1V339h-1V339h-1V338h-1V338h-1V336h-1V337h-1V338h-1V339h-1V337h-1V335h-1V335h-1V335h-1V335h-1V336h-1V337h-1V336h-1V336h-1V335h-1V336h-1V335h-1V337h-1V333h-1V335h-1V338h-1V337h-1V336h-1V335h-1V336h-1V335h-1V338h-1V337h-1V336h-1V336h-1V337h-1V335h-1V335h-1V331h-1V334h-1V335h-1V334h-1V335h-1V331h-1V333h-1V333h-1V333h-1V332h-1V329h-1V336h-1V336h-1V331h-1V331h-1V331h-1V331h-1V330h-1V330h-1V329h-1V331h-1V331h-1V330h-1V330h-1V330h-1V332h-1V331h-1V330h-1V330h-1V328h-1V332h-1V331h-1V328h-1V332h-1V331h-1V332h-1V332h-1V330h-1V330h-1V330h-1V331h-1V331h-1V330h-1V329h-1V330h-1V328h-1V328h-1V329h-1V330h-1V329h-1V328h-1V329h-1V329h-1V329h-1V326h-1V325h-1V326h-1V327h-1V327h-1V327h-1V327h-1V327h-1V327h-1V329h-1V329h-1V327h-1V324h-1V327h-1V324h-1V324h-1V325h-1V323h-1V327h-1V327h-1V323h-1V324h-1V326h-1V326h-1V327h-1V330h-1V330h-1V324h-1V323h-1V323h-1V326h-1V327h-1V321h-1V320h-1V322h-1V323h-1V319h-1V315h-1V315h-1V325h-1V324h-1V318h-1V318h-1V318h-1V316h-1V315h-1V315h-1V313h-1V313h-1V316h-1V316h-1V312h-1V314h-1V314h-1V312h-1V311h-1V306h-1V309h-1V308h-1V309h-1V307h-1V304h-1V305h-1V305h-1V305h-1V303h-1V303h-1V304h-1V295h-1V297h-1V298h-1V296h-1V294h-1V299h-1V299h-1V294h-1V296h-1V296h-1V295h-1V290h-1V290h-1V291h-1V290h-1V289h-1V287h-1V290h-1V290h-1V287h-1V283h-1V284h-1V286h-1V289h-1V289h-1V285h-1V284h-1V285h-1V285h-1V283h-1V286h-1V290h-1V291h-1V288h-1V293h-1V293h-1V291h-1V291h-1V289h-1V294h-1V293h-1V292h-1V292h-1V294h-1V299h-1V298h-1V293h-1V292h-1V296h-1V300h-1V299h-1V300h-1V295h-1V295h-1V302h-1V301h-1V302h-1V302h-1V302h-1V302h-1V301h-1V302h-1V307h-1V306h-1V306h-1V306h-1V305h-1V306h-1V306h-1V305h-1V305h-1V310h-1V307h-1V307h-1V311h-1V309h-1V309h-1V307h-1V307h-1V312h-1V312h-1V308h-1V308h-1V308h-1V308h-1V308h-1V308h-1V304h-1V305h-1V306h-1V306h-1V308h-1V305h-1V304h-1V303h-1V306h-1V307h-1V305h-1V304h-1V305h-1V306h-1V302h-1V304h-1V306h-1V306h-1V302h-1V301h-1Z"/><path fill-opacity="0.45" d="M34 284h1V286h1V288h1V287h1V293h1V294h1V292h1V293h1V293h1V291h1V293h1V296h1V294h1V294h1V293h1V296h1V290h1V296h1V297h1V288h1V296h1V289h1V295h1V296h1V291h1V298h1V297h1V295h1V293h1V300h1V298h1V296h1V296h1V296h1V296h1V291h1V295h1V295h1V296h1V295h1V295h1V295h1V293h1V287h1V290h1V286h1V286h1V285h1V289h1V289h1V286h1V286h1V287h1V282h1V284h1V288h1V281h1V283h1V282h1V282h1V283h1V284h1V282h1V280h1V272h1V279h1V274h1V278h1V271h1V276h1V276h1V274h1V270h1V275h1V268h1V271h1V271h1V271h1V267h1V267h1V271h1V273h1V265h1V273h1V271h1V270h1V274h1V273h1V266h1V276h1V269h1V277h1V277h1V276h1V278h1V277h1V278h1V284h1V283h1V277h1V283h1V282h1V281h1V282h1V286h1V282h1V286h1V287h1V288h1V289h1V286h1V288h1V291h1V288h1V289h1V295h1V292h1V293h1V297h1V300h1V294h1V295h1V296h1V300h1V302h1V302h1V300h1V305h1V302h1V300h1V294h1V306h1V307h1V303h1V305h1V302h1V304h1V308h1V310h1V309h1V306h1V310h1V308h1V311h1V312h1V314h1V312h1V315h1V314h1V315h1V311h1V314h1V313h1V316h1V315h1V317h1V318h1V317h1V317h1V314h1V318h1V311h1V316h1V317h1V321h1V317h1V319h1V319h1V317h1V317h1V316h1V317h1V319h1V316h1V321h1V319h1V320h1V319h1V318h1V319h1V319h1V321h1V321h1V325h1V323h1V321h1V319h1V319h1V321h1V319h1V322h1V323h1V322h1V321h1V322h1V320h1V321h1V319h1V320h1V322h1V322h1V321h1V322h1V322h1V319h1V321h1V322h1V321h1V323h1V322h1V322h1V322h1V323h1V321h1V326h1V322h1V325h1V321h1V324h1V324h1V325h1V323h1V323h1V324h1V324h1V323h1V323h1V324h1V327h1V329h1V326h1V324h1V326h1V324h1V327h1V326h1V327h1V327h1V326h1V326h1V328h1V325h1V327h1V325h1V328h1V328h1V326h1V328h1V329h1V328h1V329h1V326h1V329h1V329h1V327h1V329h1V330h1V329h1V327h1V330h1V326h1V328h1V328h1V331h1V329h1V325h1V330h1V330h1V323h1V329h1V330h1V328h1V329h1V330h1V325h1V330h1V328h1V330h1V330h1V330h1V331h1V328h1V329h1V329h1V329h1V328h1V327h1V331h1V328h1V328h1V327h1V330h1V330h1V332h1V333h1V329h1V326h1V329h1V329h1V332h1V331h1V327h1V331h1V331h1V331h1V333h1V331h1V330h1V333h1V332h1V332h1V333h1V333h1V330h1V333h1V329h1V330h1V331h1V330h1V330h1V333h1V330h1V331h1V333h1V334h1V334h1V332h1V334h1V335h1V332h1V334h1V330h1V332h1V333h1V334h1V334h1V334h1V333h1V335h1V336h1V333h1V333h1V334h1V335h1V332h1V336h1V333h1V333h1V334h1V336h1V335h1V336h1V337h1V335h1V334h1V335h1V336h1V333h1V334h1V334h1V336h1V336h1V336h1V335h1V333h1V335h1V335h1V336h1V336h1V335h1V334h1V336h1V335h1V335h1V332h1V337h1V333h1V335h1V337h1V337h1V337h1V336h1V336h1V337h1V336h1V336h1V338h1V336h1V337h1V337h1V338h1V336h1V337h1V336h1V338h1V339h1V339h1V335h1V338h1V337h1V336h1V338h1V337h1V337h1V337h1V337h1V339h1V339h1V339h1V338h1V334h1V338h1V338h1V338h1V337h1V337h1V340h1V340h1V336h1V337h1V336h1V339h1V339h1V337h1V337h1V337h1V339h1V334h1V340h1V338h1V336h1V339h1V338h1V333h1V337h1V339h1V337h1V340h1V340h1V339h1V339h1V340h1V341h1V340h1V338h1V339h1V337h1V339h1V337h1V341h1V338h1V339h1V339h1V336h1V341h1V340h1V341h1V341h1V336h1V339h1V340h1V342h1V343h1V341h1V342h1V340h1V339h1V343h1V340h1V341h1V343h1V342h1V346h-1V349h-1V348h-1V349h-1V347h-1V350h-1V348h-1V347h-1V347h-1V349h-1V348h-1V346h-1V346h-1V347h-1V347h-1V349h-1V348h-1V346h-1V346h-1V350h-1V345h-1V344h-1V348h-1V346h-1V347h-1V347h-1V346h-1V346h-1V348h-1V347h-1V346h-1V347h-1V346h-1V346h-1V345h-1V347h-1V345h-1V344h-1V345h-1V345h-1V344h-1V346h-1V346h-1V347h-1V344h-1V344h-1V346h-1V343h-1V347h-1V348h-1V345h-1V345h-1V344h-1V345h-1V345h-1V344h-1V344h-1V343h-1V345h-1V344h-1V345h-1V345h-1V344h-1V345h-1V344h-1V346h-1V343h-1V343h-1V344h-1V342h-1V344h-1V346h-1V344h-1V345h-1V345h-1V344h-1V344h-1V347h-1V342h-1V343h-1V343h-1V343h-1V343h-1V345h-1V343h-1V343h-1V343h-1V345h-1V342h-1V343h-1V346h-1V344h-1V344h-1V345h-1V344h-1V344h-1V344h-1V340h-1V343h-1V341h-1V344h-1V343h-1V342h-1V344h-1V343h-1V342h-1V339h-1V342h-1V341h-1V343h-1V343h-1V343h-1V342h-1V341h-1V341h-1V341h-1V340h-1V343h-1V342h-1V342h-1V342h-1V341h-1V342h-1V338h-1V341h-1V342h-1V343h-1V343h-1V340h-1V343h-1V342h-1V340h-1V341h-1V343h-1V344h-1V344h-1V342h-1V342h-1V346h-1V340h-1V339h-1V340h-1V342h-1V340h-1V342h-1V341h-1V343h-1V343h-1V340h-1V339h-1V342h-1V340h-1V341h-1V340h-1V341h-1V343h-1V343h-1V339h-1V340h-1V339h-1V339h-1V343h-1V345h-1V340h-1V343h-1V339h-1V339h-1V340h-1V338h-1V338h-1V339h-1V339h-1V339h-1V339h-1V339h-1V339h-1V339h-1V338h-1V336h-1V336h-1V339h-1V335h-1V337h-1V336h-1V339h-1V338h-1V338h-1V340h-1V339h-1V340h-1V337h-1V335h-1V336h-1V340h-1V341h-1V336h-1V336h-1V336h-1V336h-1V339h-1V336h-1V336h-1V336h-1V338h-1V336h-1V335h-1V334h-1V339h-1V339h-1V338h-1V338h-1V336h-1V336h-1V337h-1V337h-1V338h-1V336h-1V335h-1V335h-1V335h-1V334h-1V335h-1V336h-1V336h-1V335h-1V335h-1V335h-1V334h-1V337h-1V333h-1V334h-1V337h-1V337h-1V335h-1V335h-1V335h-1V335h-1V337h-1V334h-1V334h-1V335h-1V336h-1V335h-1V334h-1V331h-1V331h-1V334h-1V334h-1V334h-1V331h-1V332h-1V333h-1V332h-1V332h-1V327h-1V331h-1V336h-1V330h-1V330h-1V331h-1V330h-1V329h-1V329h-1V328h-1V331h-1V330h-1V330h-1V329h-1V330h-1V332h-1V330h-1V330h-1V329h-1V328h-1V331h-1V330h-1V328h-1V331h-1V330h-1V332h-1V331h-1V328h-1V329h-1V329h-1V331h-1V331h-1V329h-1V329h-1V329h-1V328h-1V326h-1V325h-1V329h-1V328h-1V326h-1V329h-1V328h-1V328h-1V325h-1V324h-1V324h-1V326h-1V327h-1V327h-1V326h-1V326h-1V327h-1V329h-1V327h-1V325h-1V321h-1V327h-1V324h-1V324h-1V324h-1V323h-1V327h-1V325h-1V322h-1V324h-1V325h-1V326h-1V326h-1V327h-1V329h-1V323h-1V321h-1V322h-1V322h-1V326h-1V320h-1V319h-1V320h-1V322h-1V318h-1V315h-1V314h-1V324h-1V317h-1V317h-1V317h-1V318h-1V316h-1V314h-1V314h-1V313h-1V313h-1V316h-1V312h-1V308h-1V313h-1V307h-1V311h-1V307h-1V306h-1V308h-1V307h-1V309h-1V307h-1V303h-1V304h-1V305h-1V300h-1V303h-1V301h-1V304h-1V295h-1V297h-1V297h-1V296h-1V293h-1V294h-1V298h-1V291h-1V295h-1V295h-1V290h-1V290h-1V290h-1V290h-1V290h-1V287h-1V286h-1V286h-1V290h-1V286h-1V283h-1V284h-1V285h-1V282h-1V288h-1V284h-1V278h-1V284h-1V285h-1V282h-1V281h-1V286h-1V291h-1V284h-1V286h-1V292h-1V291h-1V289h-1V289h-1V293h-1V292h-1V292h-1V291h-1V293h-1V298h-1V293h-1V293h-1V292h-1V295h-1V299h-1V298h-1V299h-1V294h-1V294h-1V301h-1V300h-1V301h-1V302h-1V302h-1V302h-1V299h-1V301h-1V306h-1V302h-1V305h-1V305h-1V304h-1V305h-1V305h-1V304h-1V305h-1V309h-1V307h-1V306h-1V311h-1V308h-1V309h-1V306h-1V306h-1V312h-1V310h-1V308h-1V308h-1V307h-1V308h-1V307h-1V308h-1V303h-1V303h-1V305h-1V305h-1V307h-1V304h-1V303h-1V303h-1V302h-1V306h-1V305h-1V302h-1V302h-1V306h-1V301h-1V301h-1V304h-1V306h-1V302h-1Z"/><path d="M34 285h1V287h1V289h1V288h1V293h1V295h1V294h1V296h1V293h1V294h1V293h1V298h1V297h1V296h1V299h1V299h1V296h1V297h1V297h1V295h1V297h1V296h1V296h1V297h1V294h1V300h1V297h1V296h1V300h1V300h1V299h1V296h1V297h1V297h1V297h1V295h1V296h1V296h1V298h1V296h1V299h1V296h1V294h1V293h1V290h1V290h1V289h1V291h1V291h1V289h1V290h1V286h1V288h1V285h1V285h1V288h1V287h1V284h1V283h1V286h1V284h1V286h1V283h1V282h1V281h1V281h1V276h1V279h1V272h1V277h1V277h1V275h1V278h1V276h1V273h1V274h1V272h1V273h1V272h1V268h1V275h1V275h1V273h1V274h1V272h1V274h1V274h1V274h1V267h1V279h1V276h1V277h1V277h1V276h1V280h1V282h1V279h1V285h1V283h1V283h1V284h1V282h1V287h1V286h1V288h1V283h1V287h1V291h1V289h1V289h1V290h1V289h1V294h1V294h1V294h1V296h1V295h1V293h1V298h1V301h1V300h1V297h1V300h1V301h1V302h1V303h1V304h1V306h1V302h1V301h1V305h1V307h1V307h1V308h1V306h1V302h1V307h1V310h1V310h1V309h1V311h1V310h1V311h1V312h1V313h1V314h1V313h1V316h1V314h1V316h1V312h1V315h1V314h1V316h1V316h1V319h1V318h1V318h1V318h1V318h1V319h1V312h1V317h1V317h1V321h1V317h1V320h1V320h1V320h1V320h1V317h1V318h1V320h1V317h1V321h1V320h1V320h1V320h1V320h1V320h1V321h1V323h1V322h1V325h1V324h1V321h1V321h1V319h1V323h1V324h1V324h1V323h1V323h1V323h1V323h1V323h1V322h1V321h1V324h1V323h1V323h1V322h1V323h1V323h1V320h1V322h1V324h1V322h1V324h1V323h1V323h1V323h1V324h1V322h1V326h1V322h1V326h1V324h1V325h1V325h1V325h1V326h1V323h1V326h1V325h1V326h1V326h1V325h1V328h1V330h1V327h1V325h1V327h1V325h1V328h1V327h1V328h1V328h1V327h1V326h1V328h1V327h1V327h1V328h1V329h1V329h1V329h1V329h1V329h1V328h1V330h1V327h1V330h1V329h1V328h1V330h1V330h1V330h1V330h1V330h1V328h1V328h1V331h1V332h1V329h1V330h1V331h1V332h1V330h1V330h1V331h1V330h1V329h1V330h1V328h1V332h1V328h1V332h1V331h1V331h1V331h1V328h1V331h1V330h1V330h1V329h1V330h1V333h1V330h1V331h1V328h1V332h1V331h1V332h1V334h1V332h1V326h1V333h1V331h1V333h1V331h1V328h1V332h1V331h1V331h1V333h1V332h1V332h1V334h1V334h1V334h1V334h1V334h1V332h1V334h1V334h1V331h1V331h1V332h1V334h1V335h1V331h1V332h1V334h1V335h1V335h1V334h1V334h1V336h1V333h1V335h1V332h1V334h1V334h1V335h1V335h1V336h1V335h1V336h1V337h1V334h1V334h1V337h1V335h1V333h1V337h1V336h1V333h1V335h1V337h1V336h1V337h1V339h1V336h1V336h1V336h1V336h1V336h1V335h1V336h1V337h1V338h1V336h1V336h1V336h1V336h1V335h1V337h1V337h1V336h1V337h1V337h1V335h1V336h1V333h1V337h1V337h1V338h1V337h1V338h1V338h1V336h1V337h1V338h1V336h1V337h1V339h1V337h1V337h1V337h1V339h1V338h1V339h1V337h1V340h1V339h1V339h1V339h1V338h1V338h1V339h1V339h1V338h1V338h1V337h1V338h1V340h1V340h1V339h1V339h1V336h1V338h1V338h1V338h1V339h1V339h1V340h1V341h1V337h1V339h1V339h1V339h1V340h1V339h1V339h1V338h1V339h1V334h1V342h1V339h1V340h1V339h1V339h1V337h1V337h1V339h1V340h1V341h1V340h1V339h1V340h1V341h1V342h1V341h1V339h1V340h1V337h1V339h1V340h1V341h1V338h1V340h1V341h1V342h1V341h1V341h1V342h1V342h1V340h1V340h1V342h1V343h1V344h1V342h1V343h1V342h1V342h1V343h1V341h1V342h1V343h1V343h1V346h-1V346h-1V347h-1V348h-1V346h-1V348h-1V348h-1V347h-1V345h-1V349h-1V347h-1V345h-1V345h-1V346h-1V346h-1V349h-1V348h-1V345h-1V346h-1V345h-1V343h-1V344h-1V345h-1V346h-1V346h-1V346h-1V345h-1V344h-1V344h-1V347h-1V345h-1V343h-1V343h-1V346h-1V343h-1V344h-1V344h-1V343h-1V344h-1V344h-1V343h-1V344h-1V345h-1V346h-1V343h-1V343h-1V345h-1V342h-1V347h-1V347h-1V345h-1V345h-1V343h-1V344h-1V345h-1V344h-1V342h-1V342h-1V343h-1V343h-1V345h-1V344h-1V343h-1V344h-1V343h-1V345h-1V342h-1V342h-1V343h-1V342h-1V343h-1V345h-1V343h-1V344h-1V345h-1V343h-1V343h-1V342h-1V341h-1V341h-1V342h-1V342h-1V342h-1V341h-1V342h-1V342h-1V342h-1V344h-1V342h-1V342h-1V344h-1V344h-1V342h-1V344h-1V343h-1V342h-1V344h-1V340h-1V341h-1V341h-1V342h-1V342h-1V341h-1V343h-1V342h-1V338h-1V338h-1V341h-1V341h-1V342h-1V341h-1V342h-1V341h-1V341h-1V340h-1V340h-1V340h-1V341h-1V341h-1V342h-1V342h-1V341h-1V341h-1V338h-1V338h-1V342h-1V342h-1V343h-1V339h-1V343h-1V341h-1V340h-1V340h-1V340h-1V344h-1V342h-1V340h-1V341h-1V343h-1V339h-1V338h-1V340h-1V339h-1V339h-1V340h-1V341h-1V342h-1V341h-1V339h-1V338h-1V340h-1V339h-1V339h-1V340h-1V338h-1V340h-1V339h-1V338h-1V339h-1V338h-1V338h-1V342h-1V342h-1V337h-1V338h-1V338h-1V337h-1V336h-1V337h-1V337h-1V339h-1V338h-1V338h-1V338h-1V339h-1V338h-1V336h-1V337h-1V335h-1V336h-1V338h-1V335h-1V336h-1V335h-1V337h-1V337h-1V335h-1V337h-1V336h-1V337h-1V335h-1V334h-1V336h-1V337h-1V339h-1V335h-1V335h-1V333h-1V334h-1V335h-1V335h-1V335h-1V335h-1V335h-1V335h-1V335h-1V334h-1V339h-1V335h-1V338h-1V337h-1V336h-1V335h-1V336h-1V337h-1V338h-1V336h-1V333h-1V334h-1V334h-1V334h-1V335h-1V336h-1V335h-1V333h-1V334h-1V335h-1V333h-1V336h-1V332h-1V333h-1V335h-1V336h-1V331h-1V333h-1V334h-1V334h-1V333h-1V333h-1V332h-1V331h-1V334h-1V334h-1V333h-1V330h-1V331h-1V333h-1V333h-1V334h-1V330h-1V330h-1V332h-1V332h-1V330h-1V327h-1V330h-1V331h-1V329h-1V329h-1V330h-1V329h-1V328h-1V328h-1V328h-1V328h-1V329h-1V329h-1V329h-1V327h-1V330h-1V330h-1V329h-1V328h-1V327h-1V325h-1V329h-1V327h-1V327h-1V327h-1V327h-1V329h-1V327h-1V328h-1V329h-1V330h-1V330h-1V326h-1V328h-1V329h-1V327h-1V325h-1V325h-1V329h-1V326h-1V325h-1V328h-1V327h-1V326h-1V325h-1V322h-1V324h-1V325h-1V325h-1V323h-1V324h-1V326h-1V326h-1V327h-1V326h-1V321h-1V321h-1V326h-1V324h-1V323h-1V322h-1V322h-1V325h-1V325h-1V322h-1V322h-1V324h-1V326h-1V326h-1V326h-1V324h-1V323h-1V320h-1V322h-1V320h-1V321h-1V318h-1V319h-1V320h-1V319h-1V317h-1V314h-1V313h-1V315h-1V316h-1V316h-1V316h-1V317h-1V315h-1V309h-1V314h-1V312h-1V312h-1V311h-1V312h-1V307h-1V305h-1V305h-1V306h-1V305h-1V305h-1V306h-1V301h-1V308h-1V304h-1V303h-1V299h-1V302h-1V299h-1V299h-1V299h-1V303h-1V292h-1V297h-1V296h-1V291h-1V291h-1V293h-1V295h-1V290h-1V294h-1V295h-1V290h-1V289h-1V286h-1V288h-1V289h-1V285h-1V284h-1V286h-1V288h-1V286h-1V280h-1V283h-1V284h-1V281h-1V280h-1V284h-1V277h-1V284h-1V284h-1V279h-1V280h-1V285h-1V288h-1V283h-1V284h-1V282h-1V288h-1V286h-1V288h-1V289h-1V288h-1V291h-1V291h-1V290h-1V293h-1V292h-1V292h-1V291h-1V292h-1V299h-1V294h-1V295h-1V293h-1V291h-1V294h-1V296h-1V301h-1V301h-1V301h-1V296h-1V298h-1V301h-1V301h-1V301h-1V303h-1V304h-1V303h-1V303h-1V303h-1V304h-1V304h-1V309h-1V304h-1V306h-1V310h-1V307h-1V306h-1V305h-1V304h-1V303h-1V310h-1V305h-1V307h-1V302h-1V305h-1V307h-1V307h-1V301h-1V303h-1V305h-1V304h-1V305h-1V303h-1V302h-1V302h-1V298h-1V302h-1V304h-1V301h-1V300h-1V301h-1V301h-1V300h-1V301h-1V302h-1V301h-1Z"/></g>
<g fill="#00FF00"><path fill-opacity="0.20" d="M33 213h1V213h1V218h1V228h1V224h1V223h1V230h1V226h1V226h1V227h1V228h1V231h1V231h1V230h1V227h1V228h1V233h1V233h1V232h1V233h1V228h1V229h1V237h1V233h1V230h1V230h1V227h1V227h1V229h1V234h1V235h1V234h1V236h1V229h1V228h1V226h1V225h1V229h1V229h1V229h1V221h1V222h1V234h1V225h1V225h1V231h1V225h1V225h1V227h1V224h1V224h1V226h1V222h1V223h1V228h1V226h1V217h1V218h1V221h1V222h1V222h1V220h1V220h1V219h1V217h1V215h1V208h1V204h1V213h1V208h1V214h1V214h1V209h1V208h1V203h1V211h1V210h1V211h1V208h1V204h1V209h1V208h1V208h1V204h1V206h1V202h1V210h1V211h1V212h1V208h1V208h1V209h1V210h1V210h1V203h1V203h1V218h1V217h1V213h1V213h1V214h1V219h1V214h1V213h1V220h1V225h1V224h1V232h1V233h1V224h1V225h1V233h1V233h1V235h1V236h1V240h1V241h1V237h1V233h1V233h1V242h1V242h1V239h1V244h1V242h1V242h1V244h1V242h1V242h1V249h1V246h1V245h1V250h1V251h1V251h1V249h1V250h1V252h1V254h1V253h1V253h1V253h1V254h1V258h1V253h1V254h1V252h1V255h1V260h1V253h1V255h1V256h1V257h1V258h1V259h1V261h1V262h1V260h1V260h1V260h1V258h1V257h1V261h1V264h1V263h1V260h1V260h1V262h1V264h1V261h1V260h1V260h1V261h1V263h1V260h1V260h1V264h1V265h1V259h1V259h1V266h1V267h1V263h1V262h1V265h1V265h1V266h1V264h1V264h1V262h1V261h1V264h1V264h1V266h1V266h1V264h1V261h1V266h1V261h1V260h1V260h1V266h1V264h1V262h1V263h1V267h1V267h1V266h1V266h1V267h1V268h1V267h1V267h1V267h1V266h1V268h1V268h1V266h1V269h1V267h1V269h1V271h1V268h1V268h1V267h1V272h1V270h1V269h1V267h1V268h1V270h1V271h1V272h1V267h1V271h1V272h1V272h1V271h1V271h1V270h1V275h1V276h1V277h1V274h1V274h1V275h1V270h1V271h1V271h1V271h1V273h1V276h1V276h1V276h1V272h1V272h1V278h1V277h1V276h1V276h1V275h1V275h1V275h1V277h1V278h1V281h1V281h1V276h1V276h1V277h1V277h1V277h1V276h1V275h1V279h1V278h1V276h1V279h1V279h1V279h1V278h1V278h1V278h1V279h1V279h1V279h1V275h1V279h1V277h1V279h1V278h1V279h1V280h1V279h1V278h1V279h1V279h1V276h1V279h1V279h1V280h1V282h1V279h1V278h1V279h1V279h1V279h1V279h1V280h1V282h1V279h1V279h1V280h1V281h1V281h1V282h1V280h1V280h1V281h1V279h1V279h1V280h1V280h1V279h1V279h1V280h1V280h1V280h1V283h1V282h1V282h1V282h1V281h1V283h1V284h1V282h1V282h1V279h1V279h1V284h1V284h1V282h1V282h1V282h1V282h1V283h1V282h1V283h1V282h1V279h1V281h1V281h1V282h1V283h1V282h1V281h1V280h1V283h1V281h1V283h1V283h1V283h1V284h1V284h1V283h1V283h1V284h1V283h1V283h1V283h1V285h1V285h1V284h1V286h1V284h1V287h1V287h1V286h1V287h1V284h1V286h1V285h1V284h1V283h1V285h1V284h1V286h1V285h1V284h1V286h1V285h1V284h1V284h1V285h1V286h1V285h1V286h1V287h1V284h1V286h1V285h1V283h1V283h1V282h1V282h1V282h1V286h1V286h1V285h1V284h1V283h1V283h1V286h1V287h1V289h1V286h1V287h1V286h1V286h1V283h1V283h1V286h1V285h1V286h1V286h1V286h1V286h1V287h1V286h1V286h1V285h1V285h1V284h1V284h1V284h1V287h1V287h1V287h1V286h1V286h1V286h1V286h1V286h1V283h1V284h1V289h1V287h1V287h1V287h1V286h1V289h1V288h1V288h1V286h1V285h1V282h1V283h1V287h1V287h1V286h1V285h1V285h1V287h1V290h1V285h1V286h1V287h1V287h1V288h1V289h1V289h1V288h1V287h1V287h1V295h-1V297h-1V296h-1V296h-1V296h-1V299h-1V298h-1V297h-1V295h-1V297h-1V296h-1V297h-1V295h-1V298h-1V296h-1V295h-1V297h-1V296h-1V295h-1V294h-1V298h-1V298h-1V295h-1V296h-1V297h-1V294h-1V295h-1V293h-1V295h-1V295h-1V292h-1V295h-1V295h-1V294h-1V295h-1V295h-1V295h-1V296h-1V297h-1V298h-1V298h-1V294h-1V295h-1V295h-1V295h-1V295h-1V295h-1V296h-1V295h-1V294h-1V299h-1V294h-1V296h-1V296h-1V296h-1V296h-1V293h-1V292h-1V296h-1V295h-1V295h-1V296h-1V296h-1V296h-1V295h-1V294h-1V294h-1V293h-1V296h-1V296h-1V293h-1V293h-1V295h-1V295h-1V296h-1V292h-1V294h-1V295h-1V292h-1V292h-1V293h-1V294h-1V293h-1V293h-1V293h-1V293h-1V294h-1V294h-1V294h-1V294h-1V294h-1V293h-1V293h-1V292h-1V292h-1V294h-1V295h-1V294h-1V294h-1V293h-1V292h-1V291h-1V292h-1V292h-1V292h-1V296h-1V296h-1V292h-1V291h-1V294h-1V293h-1V293h-1V294h-1V292h-1V292h-1V292h-1V293h-1V294h-1V294h-1V294h-1V293h-1V292h-1V291h-1V291h-1V293h-1V293h-1V291h-1V292h-1V292h-1V292h-1V292h-1V293h-1V293h-1V293h-1V292h-1V295h-1V291h-1V289h-1V290h-1V293h-1V292h-1V293h-1V293h-1V291h-1V293h-1V292h-1V294h-1V295h-1V290h-1V290h-1V290h-1V290h-1V289h-1V289h-1V290h-1V291h-1V291h-1V290h-1V291h-1V291h-1V288h-1V291h-1V291h-1V289h-1V289h-1V290h-1V289h-1V290h-1V290h-1V289h-1V289h-1V290h-1V289h-1V290h-1V289h-1V287h-1V287h-1V289h-1V289h-1V288h-1V286h-1V290h-1V289h-1V287h-1V291h-1V290h-1V286h-1V290h-1V290h-1V287h-1V287h-1V290h-1V289h-1V289h-1V288h-1V290h-1V290h-1V287h-1V286h-1V289h-1V290h-1V285h-1V287h-1V289h-1V288h-1V287h-1V286h-1V287h-1V289h-1V292h-1V291h-1V289h-1V288h-1V284h-1V284h-1V285h-1V285h-1V284h-1V286h-1V287h-1V287h-1V289h-1V289h-1V284h-1V282h-1V283h-1V284h-1V284h-1V284h-1V286h-1V283h-1V282h-1V286h-1V283h-1V282h-1V283h-1V282h-1V284h-1V284h-1V282h-1V290h-1V289h-1V282h-1V281h-1V279h-1V281h-1V281h-1V282h-1V279h-1V279h-1V284h-1V280h-1V281h-1V280h-1V280h-1V281h-1V281h-1V277h-1V280h-1V275h-1V281h-1V280h-1V279h-1V278h-1V278h-1V276h-1V276h-1V280h-1V279h-1V275h-1V276h-1V275h-1V278h-1V279h-1V276h-1V278h-1V278h-1V276h-1V275h-1V277h-1V278h-1V278h-1V274h-1V277h-1V276h-1V271h-1V276h-1V276h-1V275h-1V276h-1V276h-1V275h-1V275h-1V275h-1V275h-1V273h-1V275h-1V275h-1V273h-1V272h-1V272h-1V273h-1V273h-1V272h-1V270h-1V273h-1V273h-1V274h-1V277h-1V277h-1V273h-1V271h-1V271h-1V270h-1V270h-1V272h-1V278h-1V277h-1V272h-1V275h-1V272h-1V275h-1V272h-1V272h-1V271h-1V275h-1V275h-1V269h-1V268h-1V268h-1V269h-1V270h-1V264h-1V264h-1V270h-1V269h-1V267h-1V268h-1V265h-1V261h-1V263h-1V265h-1V261h-1V261h-1V259h-1V258h-1V258h-1V257h-1V257h-1V256h-1V255h-1V253h-1V255h-1V255h-1V254h-1V263h-1V263h-1V257h-1V254h-1V253h-1V250h-1V254h-1V254h-1V250h-1V251h-1V251h-1V249h-1V248h-1V246h-1V242h-1V239h-1V239h-1V239h-1V239h-1V235h-1V238h-1V237h-1V236h-1V233h-1V227h-1V232h-1V236h-1V235h-1V233h-1V231h-1V230h-1V226h-1V229h-1V230h-1V224h-1V226h-1V226h-1V228h-1V229h-1V224h-1V228h-1V224h-1V225h-1V225h-1V231h-1V231h-1V225h-1V226h-1V228h-1V234h-1V233h-1V232h-1V231h-1V234h-1V235h-1V235h-1V234h-1V238h-1V238h-1V240h-1V240h-1V235h-1V245h-1V244h-1V239h-1V238h-1V239h-1V241h-1V247h-1V247h-1V243h-1V243h-1V244h-1V248h-1V247h-1V252h-1V252h-1V249h-1V254h-1V254h-1V248h-1V249h-1V249h-1V250h-1V250h-1V251h-1V248h-1V253h-1V253h-1V253h-1V245h-1V246h-1V247h-1V249h-1V250h-1V251h-1V254h-1V253h-1V250h-1V246h-1V253h-1V253h-1V249h-1V250h-1V253h-1V253h-1V247h-1V246h-1V246h-1V245h-1V244h-1V242h-1V245h-1V242h-1V247h-1V246h-1V257h-1V257h-1V247h-1Z"/><path fill-opacity="0.45" d="M34 213h1V227h1V232h1V231h1V223h1V233h1V226h1V228h1V228h1V228h1V231h1V231h1V235h1V228h1V232h1V233h1V234h1V233h1V233h1V228h1V237h1V237h1V235h1V233h1V230h1V233h1V228h1V230h1V234h1V236h1V235h1V240h1V238h1V229h1V229h1V226h1V230h1V231h1V230h1V222h1V233h1V234h1V232h1V225h1V233h1V226h1V228h1V228h1V231h1V224h1V227h1V223h1V224h1V228h1V226h1V218h1V221h1V222h1V223h1V225h1V224h1V221h1V220h1V218h1V217h1V214h1V204h1V215h1V208h1V214h1V214h1V211h1V209h1V203h1V211h1V211h1V211h1V212h1V204h1V210h1V208h1V209h1V204h1V207h1V202h1V211h1V213h1V213h1V209h1V209h1V213h1V210h1V211h1V204h1V211h1V219h1V217h1V213h1V214h1V214h1V221h1V219h1V213h1V221h1V228h1V225h1V233h1V235h1V225h1V231h1V233h1V237h1V236h1V239h1V241h1V241h1V239h1V234h1V236h1V243h1V243h1V239h1V246h1V242h1V243h1V245h1V244h1V242h1V250h1V247h1V246h1V250h1V251h1V251h1V249h1V252h1V252h1V256h1V254h1V254h1V253h1V258h1V259h1V253h1V254h1V252h1V255h1V261h1V254h1V256h1V261h1V258h1V259h1V259h1V262h1V263h1V261h1V261h1V260h1V261h1V258h1V262h1V264h1V264h1V260h1V262h1V263h1V264h1V263h1V260h1V260h1V262h1V263h1V261h1V263h1V266h1V265h1V259h1V263h1V266h1V268h1V263h1V263h1V265h1V265h1V266h1V265h1V265h1V264h1V262h1V264h1V267h1V266h1V266h1V264h1V262h1V266h1V261h1V261h1V267h1V267h1V265h1V262h1V266h1V267h1V268h1V267h1V267h1V268h1V268h1V267h1V267h1V268h1V266h1V269h1V269h1V266h1V269h1V268h1V270h1V271h1V268h1V269h1V267h1V272h1V271h1V270h1V268h1V269h1V272h1V271h1V272h1V267h1V272h1V273h1V273h1V272h1V273h1V271h1V276h1V277h1V277h1V275h1V275h1V276h1V271h1V276h1V272h1V272h1V274h1V278h1V277h1V276h1V275h1V272h1V278h1V277h1V276h1V277h1V276h1V278h1V275h1V279h1V279h1V282h1V281h1V277h1V277h1V277h1V277h1V277h1V278h1V276h1V279h1V279h1V277h1V280h1V279h1V280h1V279h1V279h1V278h1V279h1V280h1V280h1V276h1V280h1V278h1V280h1V279h1V280h1V280h1V279h1V279h1V279h1V280h1V277h1V279h1V280h1V281h1V282h1V280h1V279h1V280h1V280h1V279h1V280h1V282h1V282h1V279h1V280h1V280h1V282h1V282h1V283h1V280h1V281h1V282h1V280h1V280h1V280h1V283h1V283h1V279h1V281h1V281h1V281h1V283h1V284h1V282h1V283h1V281h1V283h1V284h1V284h1V282h1V280h1V285h1V284h1V284h1V284h1V282h1V283h1V284h1V285h1V283h1V283h1V282h1V279h1V282h1V281h1V284h1V285h1V283h1V284h1V281h1V285h1V281h1V283h1V285h1V284h1V285h1V285h1V284h1V284h1V286h1V284h1V284h1V283h1V286h1V285h1V284h1V286h1V285h1V288h1V288h1V286h1V287h1V285h1V286h1V285h1V285h1V284h1V285h1V284h1V286h1V286h1V285h1V286h1V285h1V285h1V284h1V285h1V286h1V286h1V287h1V288h1V285h1V286h1V286h1V283h1V284h1V283h1V283h1V284h1V286h1V287h1V287h1V284h1V284h1V285h1V287h1V287h1V290h1V287h1V287h1V287h1V286h1V284h1V283h1V286h1V286h1V287h1V287h1V287h1V287h1V288h1V286h1V286h1V286h1V286h1V284h1V284h1V284h1V287h1V289h1V288h1V287h1V287h1V287h1V287h1V286h1V284h1V285h1V289h1V288h1V287h1V287h1V287h1V291h1V288h1V288h1V287h1V286h1V283h1V288h1V288h1V288h1V288h1V285h1V285h1V287h1V290h1V285h1V288h1V287h1V288h1V289h1V291h1V290h1V288h1V288h1V296h-1V296h-1V295h-1V295h-1V299h-1V297h-1V294h-1V295h-1V296h-1V295h-1V296h-1V295h-1V297h-1V296h-1V294h-1V297h-1V295h-1V294h-1V293h-1V297h-1V293h-1V294h-1V294h-1V296h-1V293h-1V294h-1V293h-1V294h-1V294h-1V292h-1V295h-1V295h-1V294h-1V294h-1V294h-1V294h-1V296h-1V296h-1V297h-1V298h-1V293h-1V294h-1V293h-1V295h-1V294h-1V295h-1V295h-1V293h-1V293h-1V299h-1V294h-1V296h-1V295h-1V295h-1V295h-1V292h-1V292h-1V296h-1V294h-1V295h-1V295h-1V296h-1V295h-1V295h-1V294h-1V293h-1V292h-1V296h-1V294h-1V293h-1V293h-1V294h-1V295h-1V296h-1V291h-1V294h-1V295h-1V292h-1V292h-1V292h-1V293h-1V293h-1V290h-1V293h-1V292h-1V293h-1V294h-1V294h-1V293h-1V293h-1V290h-1V293h-1V292h-1V291h-1V293h-1V295h-1V294h-1V293h-1V291h-1V292h-1V290h-1V291h-1V291h-1V292h-1V294h-1V296h-1V292h-1V291h-1V294h-1V291h-1V292h-1V293h-1V292h-1V291h-1V292h-1V290h-1V293h-1V290h-1V293h-1V293h-1V292h-1V290h-1V290h-1V293h-1V291h-1V290h-1V291h-1V292h-1V292h-1V292h-1V289h-1V293h-1V292h-1V291h-1V294h-1V289h-1V289h-1V290h-1V292h-1V288h-1V293h-1V292h-1V290h-1V292h-1V291h-1V290h-1V295h-1V290h-1V289h-1V289h-1V290h-1V288h-1V289h-1V288h-1V290h-1V290h-1V290h-1V288h-1V291h-1V288h-1V291h-1V287h-1V288h-1V287h-1V289h-1V286h-1V290h-1V289h-1V289h-1V289h-1V290h-1V288h-1V289h-1V287h-1V285h-1V287h-1V286h-1V289h-1V287h-1V286h-1V289h-1V286h-1V287h-1V290h-1V286h-1V286h-1V287h-1V289h-1V287h-1V287h-1V290h-1V289h-1V289h-1V287h-1V290h-1V286h-1V286h-1V285h-1V286h-1V289h-1V285h-1V286h-1V288h-1V287h-1V285h-1V286h-1V287h-1V289h-1V292h-1V288h-1V288h-1V287h-1V283h-1V284h-1V284h-1V285h-1V284h-1V286h-1V286h-1V287h-1V286h-1V289h-1V282h-1V282h-1V283h-1V284h-1V283h-1V284h-1V285h-1V283h-1V282h-1V285h-1V282h-1V280h-1V283h-1V280h-1V284h-1V283h-1V280h-1V289h-1V282h-1V282h-1V279h-1V278h-1V278h-1V280h-1V282h-1V279h-1V279h-1V284h-1V279h-1V281h-1V279h-1V280h-1V280h-1V280h-1V277h-1V279h-1V274h-1V280h-1V279h-1V277h-1V276h-1V278h-1V275h-1V276h-1V279h-1V275h-1V272h-1V275h-1V275h-1V275h-1V278h-1V275h-1V277h-1V277h-1V274h-1V274h-1V275h-1V277h-1V277h-1V273h-1V276h-1V275h-1V271h-1V275h-1V275h-1V275h-1V275h-1V275h-1V275h-1V274h-1V275h-1V274h-1V273h-1V275h-1V273h-1V273h-1V272h-1V272h-1V272h-1V271h-1V272h-1V270h-1V272h-1V271h-1V273h-1V277h-1V274h-1V273h-1V271h-1V270h-1V270h-1V269h-1V269h-1V277h-1V273h-1V271h-1V275h-1V271h-1V274h-1V272h-1V271h-1V271h-1V275h-1V274h-1V268h-1V267h-1V268h-1V267h-1V270h-1V263h-1V263h-1V269h-1V266h-1V267h-1V267h-1V265h-1V260h-1V262h-1V264h-1V260h-1V258h-1V258h-1V258h-1V258h-1V256h-1V256h-1V252h-1V255h-1V253h-1V254h-1V254h-1V254h-1V263h-1V252h-1V256h-1V253h-1V252h-1V246h-1V247h-1V253h-1V249h-1V251h-1V250h-1V248h-1V246h-1V245h-1V239h-1V239h-1V233h-1V235h-1V238h-1V234h-1V238h-1V237h-1V235h-1V232h-1V227h-1V232h-1V235h-1V233h-1V231h-1V230h-1V227h-1V226h-1V226h-1V229h-1V223h-1V225h-1V222h-1V225h-1V228h-1V224h-1V227h-1V223h-1V225h-1V224h-1V221h-1V231h-1V225h-1V225h-1V227h-1V234h-1V225h-1V231h-1V230h-1V233h-1V234h-1V234h-1V231h-1V238h-1V237h-1V239h-1V235h-1V235h-1V244h-1V238h-1V238h-1V237h-1V237h-1V241h-1V246h-1V244h-1V243h-1V243h-1V243h-1V247h-1V247h-1V246h-1V252h-1V248h-1V247h-1V254h-1V244h-1V249h-1V244h-1V249h-1V248h-1V251h-1V248h-1V251h-1V253h-1V250h-1V243h-1V246h-1V243h-1V247h-1V249h-1V251h-1V253h-1V250h-1V250h-1V246h-1V246h-1V253h-1V249h-1V250h-1V248h-1V253h-1V247h-1V246h-1V246h-1V245h-1V243h-1V241h-1V244h-1V241h-1V246h-1V245h-1V256h-1V247h-1Z"/><path d="M34 218h1V227h1V233h1V231h1V229h1V233h1V233h1V229h1V231h1V234h1V232h1V236h1V236h1V229h1V237h1V234h1V235h1V233h1V237h1V237h1V239h1V238h1V237h1V234h1V236h1V236h1V228h1V233h1V235h1V238h1V236h1V241h1V239h1V230h1V230h1V230h1V232h1V234h1V232h1V233h1V233h1V235h1V234h1V232h1V234h1V234h1V231h1V231h1V231h1V232h1V232h1V226h1V228h1V229h1V228h1V225h1V221h1V223h1V229h1V227h1V225h1V222h1V221h1V219h1V219h1V214h1V205h1V216h1V209h1V215h1V214h1V214h1V212h1V204h1V212h1V212h1V211h1V215h1V205h1V213h1V213h1V209h1V205h1V208h1V203h1V211h1V217h1V216h1V209h1V212h1V214h1V213h1V211h1V212h1V220h1V220h1V218h1V214h1V214h1V223h1V223h1V219h1V220h1V222h1V228h1V237h1V234h1V235h1V236h1V235h1V237h1V237h1V237h1V240h1V241h1V242h1V240h1V237h1V236h1V244h1V244h1V240h1V248h1V242h1V244h1V247h1V245h1V248h1V251h1V249h1V248h1V251h1V252h1V251h1V251h1V253h1V253h1V256h1V254h1V257h1V254h1V260h1V259h1V254h1V257h1V253h1V256h1V261h1V254h1V257h1V261h1V261h1V261h1V264h1V262h1V264h1V264h1V262h1V263h1V263h1V262h1V265h1V264h1V265h1V267h1V263h1V265h1V265h1V264h1V261h1V261h1V262h1V264h1V263h1V264h1V266h1V266h1V265h1V266h1V267h1V268h1V264h1V263h1V266h1V266h1V267h1V266h1V266h1V265h1V265h1V265h1V269h1V269h1V266h1V266h1V262h1V270h1V262h1V265h1V269h1V269h1V266h1V264h1V267h1V267h1V271h1V267h1V267h1V269h1V269h1V268h1V268h1V268h1V267h1V272h1V269h1V267h1V272h1V268h1V271h1V271h1V271h1V270h1V272h1V273h1V272h1V270h1V270h1V270h1V275h1V275h1V273h1V268h1V272h1V275h1V273h1V272h1V274h1V275h1V277h1V278h1V278h1V275h1V275h1V277h1V277h1V279h1V275h1V272h1V275h1V278h1V277h1V277h1V278h1V277h1V278h1V278h1V277h1V277h1V278h1V278h1V277h1V281h1V281h1V282h1V282h1V280h1V277h1V281h1V278h1V278h1V279h1V279h1V280h1V279h1V277h1V281h1V280h1V280h1V281h1V280h1V280h1V280h1V281h1V280h1V276h1V281h1V278h1V281h1V279h1V282h1V281h1V280h1V279h1V281h1V280h1V277h1V280h1V282h1V281h1V283h1V280h1V281h1V280h1V280h1V280h1V281h1V283h1V282h1V281h1V284h1V281h1V283h1V283h1V284h1V282h1V281h1V282h1V280h1V280h1V281h1V283h1V284h1V282h1V283h1V285h1V281h1V285h1V285h1V283h1V284h1V283h1V284h1V284h1V284h1V283h1V283h1V288h1V284h1V285h1V287h1V285h1V286h1V285h1V286h1V284h1V285h1V285h1V280h1V284h1V284h1V286h1V287h1V284h1V285h1V284h1V286h1V282h1V286h1V286h1V284h1V285h1V285h1V285h1V286h1V286h1V286h1V285h1V286h1V286h1V286h1V285h1V287h1V285h1V288h1V288h1V287h1V287h1V285h1V287h1V286h1V286h1V287h1V288h1V285h1V287h1V287h1V286h1V289h1V286h1V286h1V285h1V287h1V288h1V286h1V287h1V288h1V285h1V287h1V288h1V284h1V284h1V286h1V287h1V286h1V286h1V287h1V288h1V286h1V289h1V287h1V288h1V288h1V291h1V289h1V289h1V287h1V287h1V285h1V288h1V287h1V287h1V288h1V287h1V288h1V288h1V288h1V287h1V286h1V286h1V286h1V286h1V284h1V288h1V288h1V289h1V290h1V287h1V287h1V288h1V290h1V287h1V284h1V289h1V290h1V289h1V290h1V288h1V290h1V291h1V289h1V289h1V287h1V289h1V289h1V289h1V289h1V288h1V289h1V286h1V289h1V288h1V290h1V289h1V289h1V288h1V289h1V289h1V291h1V291h1V289h1V288h1V296h-1V295h-1V295h-1V294h-1V298h-1V295h-1V294h-1V294h-1V294h-1V292h-1V295h-1V294h-1V297h-1V291h-1V293h-1V293h-1V293h-1V294h-1V293h-1V292h-1V293h-1V293h-1V293h-1V293h-1V292h-1V293h-1V292h-1V293h-1V294h-1V291h-1V294h-1V294h-1V291h-1V294h-1V292h-1V294h-1V295h-1V295h-1V296h-1V294h-1V293h-1V294h-1V292h-1V294h-1V293h-1V294h-1V293h-1V293h-1V293h-1V298h-1V292h-1V294h-1V294h-1V294h-1V293h-1V292h-1V291h-1V294h-1V293h-1V294h-1V294h-1V295h-1V293h-1V294h-1V293h-1V292h-1V291h-1V290h-1V294h-1V291h-1V292h-1V293h-1V294h-1V295h-1V290h-1V293h-1V294h-1V290h-1V291h-1V290h-1V288h-1V291h-1V289h-1V292h-1V291h-1V292h-1V292h-1V291h-1V291h-1V292h-1V289h-1V290h-1V290h-1V291h-1V292h-1V293h-1V293h-1V293h-1V291h-1V291h-1V290h-1V290h-1V290h-1V291h-1V293h-1V289h-1V291h-1V291h-1V290h-1V289h-1V290h-1V292h-1V291h-1V289h-1V290h-1V289h-1V291h-1V290h-1V289h-1V291h-1V291h-1V290h-1V290h-1V290h-1V291h-1V290h-1V290h-1V290h-1V290h-1V291h-1V289h-1V293h-1V291h-1V289h-1V294h-1V288h-1V286h-1V289h-1V292h-1V287h-1V292h-1V291h-1V290h-1V290h-1V291h-1V290h-1V290h-1V289h-1V289h-1V287h-1V289h-1V286h-1V288h-1V286h-1V290h-1V286h-1V287h-1V287h-1V289h-1V287h-1V288h-1V286h-1V287h-1V287h-1V288h-1V286h-1V289h-1V284h-1V288h-1V289h-1V289h-1V288h-1V286h-1V286h-1V285h-1V286h-1V285h-1V289h-1V286h-1V286h-1V286h-1V286h-1V286h-1V287h-1V283h-1V285h-1V285h-1V285h-1V286h-1V286h-1V289h-1V288h-1V288h-1V287h-1V287h-1V286h-1V286h-1V284h-1V285h-1V285h-1V284h-1V286h-1V285h-1V286h-1V283h-1V285h-1V285h-1V288h-1V287h-1V287h-1V286h-1V282h-1V283h-1V283h-1V281h-1V284h-1V281h-1V283h-1V286h-1V286h-1V283h-1V284h-1V282h-1V281h-1V281h-1V282h-1V283h-1V282h-1V285h-1V282h-1V281h-1V283h-1V281h-1V279h-1V280h-1V279h-1V283h-1V282h-1V278h-1V281h-1V282h-1V282h-1V279h-1V276h-1V278h-1V276h-1V281h-1V278h-1V277h-1V283h-1V279h-1V279h-1V278h-1V279h-1V279h-1V274h-1V277h-1V279h-1V274h-1V275h-1V276h-1V276h-1V274h-1V276h-1V273h-1V275h-1V276h-1V275h-1V272h-1V270h-1V272h-1V275h-1V276h-1V275h-1V274h-1V276h-1V271h-1V273h-1V272h-1V275h-1V273h-1V271h-1V271h-1V274h-1V270h-1V273h-1V274h-1V275h-1V274h-1V271h-1V274h-1V273h-1V273h-1V274h-1V272h-1V271h-1V273h-1V273h-1V269h-1V271h-1V271h-1V269h-1V271h-1V269h-1V268h-1V269h-1V270h-1V273h-1V272h-1V269h-1V270h-1V269h-1V268h-1V268h-1V268h-1V272h-1V273h-1V269h-1V274h-1V270h-1V271h-1V269h-1V267h-1V268h-1V271h-1V274h-1V265h-1V267h-1V265h-1V266h-1V267h-1V262h-1V263h-1V264h-1V264h-1V266h-1V265h-1V265h-1V260h-1V262h-1V264h-1V257h-1V258h-1V258h-1V253h-1V257h-1V255h-1V255h-1V252h-1V253h-1V252h-1V254h-1V253h-1V252h-1V252h-1V251h-1V256h-1V251h-1V250h-1V245h-1V246h-1V244h-1V244h-1V249h-1V250h-1V248h-1V245h-1V243h-1V237h-1V238h-1V233h-1V234h-1V227h-1V234h-1V234h-1V231h-1V235h-1V229h-1V225h-1V227h-1V227h-1V233h-1V231h-1V219h-1V226h-1V225h-1V224h-1V227h-1V220h-1V223h-1V221h-1V221h-1V223h-1V220h-1V227h-1V221h-1V224h-1V221h-1V220h-1V227h-1V224h-1V224h-1V226h-1V226h-1V224h-1V227h-1V230h-1V229h-1V234h-1V228h-1V230h-1V237h-1V237h-1V237h-1V232h-1V234h-1V234h-1V235h-1V238h-1V236h-1V235h-1V239h-1V240h-1V242h-1V243h-1V240h-1V243h-1V247h-1V242h-1V245h-1V248h-1V248h-1V244h-1V240h-1V241h-1V245h-1V242h-1V249h-1V247h-1V248h-1V247h-1V250h-1V253h-1V250h-1V242h-1V242h-1V240h-1V245h-1V246h-1V247h-1V253h-1V249h-1V249h-1V242h-1V245h-1V247h-1V248h-1V246h-1V246h-1V244h-1V244h-1V245h-1V245h-1V244h-1V242h-1V240h-1V244h-1V241h-1V241h-1V244h-1V238h-1V235h-1Z"/></g>
<g fill="#FF8600"><path fill-opacity="0.20" d="M33 117h1V112h1V113h1V106h1V106h1V111h1V114h1V115h1V113h1V113h1V114h1V112h1V111h1V114h1V114h1V111h1V117h1V118h1V117h1V114h1V115h1V117h1V117h1V112h1V113h1V120h1V119h1V119h1V117h1V119h1V120h1V118h1V116h1V116h1V118h1V119h1V121h1V119h1V117h1V117h1V111h1V111h1V114h1V118h1V114h1V115h1V116h1V112h1V111h1V108h1V113h1V116h1V112h1V112h1V114h1V115h1V110h1V111h1V110h1V106h1V107h1V108h1V106h1V104h1V105h1V103h1V102h1V98h1V96h1V92h1V89h1V90h1V98h1V98h1V98h1V92h1V93h1V93h1V90h1V90h1V92h1V87h1V86h1V82h1V82h1V96h1V97h1V97h1V97h1V99h1V98h1V97h1V95h1V95h1V97h1V92h1V93h1V100h1V85h1V85h1V102h1V102h1V113h1V110h1V109h1V109h1V107h1V107h1V108h1V111h1V112h1V109h1V109h1V109h1V115h1V115h1V115h1V118h1V113h1V113h1V117h1V118h1V123h1V114h1V114h1V118h1V121h1V123h1V124h1V124h1V124h1V128h1V128h1V129h1V127h1V126h1V127h1V127h1V127h1V131h1V127h1V128h1V132h1V133h1V135h1V135h1V135h1V135h1V134h1V139h1V139h1V137h1V134h1V135h1V137h1V139h1V134h1V134h1V135h1V139h1V140h1V141h1V135h1V136h1V139h1V139h1V138h1V138h1V142h1V142h1V138h1V139h1V136h1V137h1V139h1V142h1V142h1V142h1V146h1V147h1V145h1V144h1V146h1V147h1V146h1V145h1V142h1V145h1V146h1V146h1V142h1V144h1V147h1V146h1V145h1V145h1V145h1V144h1V144h1V144h1V143h1V145h1V145h1V144h1V147h1V147h1V148h1V149h1V147h1V147h1V149h1V149h1V149h1V150h1V147h1V147h1V148h1V148h1V147h1V148h1V150h1V149h1V149h1V150h1V150h1V151h1V145h1V145h1V152h1V151h1V151h1V152h1V153h1V153h1V152h1V153h1V153h1V151h1V151h1V153h1V153h1V152h1V153h1V152h1V151h1V151h1V156h1V155h1V155h1V152h1V153h1V153h1V152h1V153h1V154h1V155h1V154h1V154h1V153h1V154h1V155h1V152h1V152h1V152h1V152h1V157h1V157h1V157h1V159h1V153h1V154h1V159h1V156h1V156h1V156h1V156h1V156h1V157h1V157h1V156h1V157h1V156h1V155h1V153h1V153h1V156h1V156h1V157h1V159h1V157h1V152h1V152h1V157h1V157h1V156h1V157h1V158h1V158h1V160h1V156h1V157h1V157h1V159h1V157h1V157h1V159h1V159h1V157h1V155h1V157h1V160h1V160h1V159h1V157h1V157h1V160h1V159h1V158h1V159h1V161h1V159h1V159h1V157h1V157h1V159h1V159h1V158h1V157h1V157h1V160h1V157h1V160h1V161h1V160h1V157h1V161h1V161h1V158h1V158h1V158h1V162h1V157h1V157h1V162h1V163h1V162h1V160h1V160h1V161h1V161h1V158h1V157h1V162h1V162h1V161h1V162h1V161h1V160h1V160h1V163h1V161h1V161h1V159h1V159h1V162h1V162h1V161h1V161h1V163h1V160h1V160h1V165h1V163h1V162h1V160h1V159h1V164h1V163h1V163h1V164h1V164h1V164h1V164h1V164h1V163h1V162h1V161h1V161h1V164h1V160h1V160h1V163h1V163h1V163h1V165h1V166h1V166h1V164h1V161h1V162h1V163h1V165h1V162h1V161h1V165h1V166h1V163h1V162h1V166h1V165h1V163h1V162h1V164h1V165h1V164h1V164h1V163h1V163h1V164h1V165h1V166h1V165h1V165h1V165h1V165h1V167h1V166h1V166h1V166h1V165h1V165h1V168h1V166h1V166h1V162h1V162h1V167h1V169h1V168h1V168h1V168h1V163h1V165h1V166h1V168h1V167h1V168h1V166h1V166h1V165h1V167h1V163h1V164h1V171h1V170h1V166h1V166h1V167h1V168h1V170h1V167h1V168h1V168h1V167h1V165h1V165h1V169h1V169h1V169h1V165h1V165h1V166h1V166h1V167h1V176h-1V178h-1V178h-1V176h-1V179h-1V179h-1V177h-1V177h-1V177h-1V177h-1V176h-1V177h-1V179h-1V178h-1V178h-1V178h-1V177h-1V178h-1V178h-1V178h-1V180h-1V178h-1V175h-1V177h-1V176h-1V176h-1V177h-1V177h-1V176h-1V177h-1V174h-1V175h-1V177h-1V176h-1V176h-1V178h-1V177h-1V175h-1V179h-1V179h-1V176h-1V180h-1V181h-1V176h-1V175h-1V176h-1V178h-1V178h-1V175h-1V176h-1V172h-1V173h-1V176h-1V177h-1V176h-1V174h-1V175h-1V175h-1V176h-1V175h-1V180h-1V174h-1V176h-1V173h-1V173h-1V178h-1V179h-1V178h-1V178h-1V173h-1V174h-1V174h-1V174h-1V174h-1V174h-1V178h-1V179h-1V175h-1V174h-1V174h-1V177h-1V178h-1V176h-1V176h-1V174h-1V179h-1V172h-1V174h-1V172h-1V171h-1V171h-1V169h-1V176h-1V177h-1V173h-1V173h-1V172h-1V175h-1V174h-1V172h-1V172h-1V173h-1V174h-1V173h-1V175h-1V175h-1V170h-1V171h-1V173h-1V174h-1V173h-1V172h-1V174h-1V173h-1V171h-1V172h-1V172h-1V171h-1V174h-1V174h-1V173h-1V175h-1V175h-1V169h-1V171h-1V173h-1V173h-1V172h-1V172h-1V172h-1V170h-1V171h-1V171h-1V169h-1V170h-1V168h-1V168h-1V171h-1V171h-1V169h-1V168h-1V169h-1V168h-1V167h-1V168h-1V168h-1V168h-1V168h-1V169h-1V167h-1V169h-1V168h-1V170h-1V170h-1V167h-1V170h-1V170h-1V169h-1V170h-1V169h-1V170h-1V168h-1V168h-1V168h-1V166h-1V169h-1V170h-1V166h-1V169h-1V169h-1V168h-1V166h-1V167h-1V168h-1V171h-1V169h-1V168h-1V167h-1V165h-1V167h-1V167h-1V167h-1V166h-1V165h-1V167h-1V168h-1V167h-1V165h-1V165h-1V165h-1V164h-1V165h-1V167h-1V167h-1V167h-1V168h-1V165h-1V166h-1V166h-1V167h-1V163h-1V166h-1V167h-1V167h-1V166h-1V168h-1V163h-1V164h-1V166h-1V168h-1V169h-1V166h-1V165h-1V167h-1V165h-1V164h-1V168h-1V167h-1V167h-1V164h-1V161h-1V161h-1V165h-1V168h-1V168h-1V166h-1V167h-1V166h-1V162h-1V162h-1V165h-1V165h-1V164h-1V164h-1V169h-1V169h-1V164h-1V164h-1V164h-1V163h-1V165h-1V164h-1V166h-1V167h-1V162h-1V162h-1V162h-1V161h-1V163h-1V163h-1V162h-1V162h-1V162h-1V162h-1V161h-1V157h-1V158h-1V163h-1V163h-1V161h-1V159h-1V158h-1V161h-1V161h-1V159h-1V159h-1V159h-1V159h-1V158h-1V158h-1V157h-1V162h-1V161h-1V158h-1V158h-1V157h-1V156h-1V158h-1V159h-1V155h-1V158h-1V158h-1V158h-1V152h-1V158h-1V157h-1V154h-1V155h-1V158h-1V155h-1V154h-1V155h-1V155h-1V155h-1V158h-1V160h-1V155h-1V154h-1V153h-1V153h-1V155h-1V155h-1V153h-1V151h-1V154h-1V151h-1V158h-1V158h-1V154h-1V152h-1V155h-1V156h-1V156h-1V153h-1V153h-1V152h-1V151h-1V154h-1V153h-1V151h-1V152h-1V151h-1V154h-1V149h-1V151h-1V150h-1V149h-1V151h-1V151h-1V148h-1V142h-1V146h-1V147h-1V149h-1V148h-1V146h-1V145h-1V145h-1V140h-1V140h-1V137h-1V142h-1V142h-1V139h-1V141h-1V140h-1V138h-1V139h-1V134h-1V134h-1V137h-1V138h-1V138h-1V133h-1V134h-1V134h-1V134h-1V133h-1V126h-1V129h-1V130h-1V124h-1V123h-1V128h-1V127h-1V127h-1V123h-1V130h-1V129h-1V124h-1V127h-1V138h-1V124h-1V122h-1V120h-1V116h-1V112h-1V116h-1V116h-1V117h-1V116h-1V114h-1V115h-1V112h-1V113h-1V113h-1V112h-1V115h-1V116h-1V117h-1V108h-1V112h-1V113h-1V112h-1V113h-1V108h-1V110h-1V110h-1V118h-1V117h-1V118h-1V118h-1V116h-1V111h-1V111h-1V117h-1V117h-1V117h-1V117h-1V120h-1V127h-1V127h-1V123h-1V127h-1V127h-1V130h-1V129h-1V122h-1V127h-1V130h-1V130h-1V127h-1V127h-1V124h-1V124h-1V128h-1V125h-1V128h-1V131h-1V132h-1V128h-1V127h-1V128h-1V129h-1V129h-1V130h-1V131h-1V131h-1V131h-1V128h-1V136h-1V135h-1V128h-1V132h-1V132h-1V128h-1V128h-1V128h-1V135h-1V135h-1V136h-1V137h-1V133h-1V134h-1V131h-1V130h-1V131h-1V133h-1V134h-1V129h-1V130h-1V127h-1V127h-1V127h-1V128h-1V127h-1V126h-1V126h-1V129h-1V129h-1V124h-1V120h-1V123h-1V122h-1Z"/><path fill-opacity="0.45" d="M34 112h1V114h1V106h1V114h1V112h1V116h1V116h1V115h1V114h1V115h1V119h1V112h1V115h1V117h1V111h1V119h1V119h1V118h1V114h1V121h1V117h1V119h1V113h1V118h1V120h1V120h1V120h1V118h1V120h1V120h1V119h1V119h1V116h1V119h1V119h1V121h1V122h1V117h1V119h1V112h1V115h1V114h1V118h1V115h1V116h1V117h1V112h1V111h1V108h1V115h1V116h1V112h1V115h1V114h1V115h1V111h1V114h1V111h1V106h1V109h1V108h1V108h1V104h1V105h1V105h1V102h1V105h1V97h1V96h1V90h1V98h1V99h1V99h1V98h1V93h1V98h1V93h1V90h1V90h1V92h1V98h1V87h1V82h1V87h1V96h1V98h1V98h1V97h1V100h1V99h1V97h1V95h1V99h1V99h1V92h1V99h1V101h1V86h1V91h1V105h1V102h1V113h1V111h1V109h1V112h1V108h1V108h1V110h1V111h1V113h1V110h1V110h1V109h1V115h1V115h1V117h1V119h1V114h1V114h1V117h1V120h1V123h1V116h1V114h1V119h1V122h1V123h1V126h1V128h1V124h1V128h1V129h1V129h1V128h1V127h1V128h1V127h1V130h1V132h1V127h1V134h1V133h1V134h1V135h1V138h1V136h1V137h1V134h1V140h1V140h1V137h1V135h1V137h1V142h1V139h1V139h1V135h1V135h1V141h1V140h1V144h1V136h1V138h1V139h1V139h1V139h1V139h1V143h1V142h1V138h1V141h1V136h1V139h1V139h1V142h1V144h1V142h1V146h1V148h1V147h1V144h1V147h1V147h1V146h1V146h1V142h1V145h1V147h1V146h1V142h1V144h1V147h1V147h1V145h1V147h1V146h1V145h1V146h1V147h1V143h1V145h1V146h1V145h1V148h1V148h1V148h1V149h1V148h1V148h1V149h1V151h1V149h1V150h1V150h1V148h1V148h1V149h1V147h1V149h1V150h1V150h1V149h1V151h1V150h1V151h1V145h1V150h1V152h1V151h1V154h1V153h1V153h1V154h1V153h1V154h1V154h1V153h1V152h1V155h1V154h1V152h1V153h1V152h1V154h1V151h1V156h1V156h1V156h1V152h1V153h1V153h1V153h1V154h1V155h1V156h1V155h1V155h1V153h1V155h1V156h1V152h1V155h1V152h1V154h1V157h1V157h1V157h1V160h1V153h1V155h1V159h1V156h1V157h1V157h1V156h1V157h1V157h1V159h1V157h1V158h1V157h1V156h1V155h1V153h1V157h1V157h1V157h1V161h1V159h1V155h1V152h1V158h1V158h1V157h1V159h1V159h1V158h1V161h1V157h1V159h1V157h1V159h1V160h1V157h1V159h1V160h1V157h1V156h1V158h1V161h1V161h1V160h1V157h1V158h1V162h1V159h1V158h1V160h1V161h1V160h1V160h1V158h1V159h1V160h1V160h1V158h1V158h1V158h1V160h1V157h1V161h1V161h1V161h1V158h1V161h1V162h1V158h1V159h1V158h1V163h1V157h1V162h1V163h1V163h1V163h1V161h1V161h1V161h1V162h1V160h1V158h1V163h1V163h1V161h1V163h1V162h1V161h1V160h1V165h1V162h1V162h1V159h1V159h1V163h1V162h1V161h1V162h1V164h1V163h1V161h1V165h1V164h1V163h1V164h1V159h1V164h1V164h1V164h1V165h1V165h1V165h1V164h1V164h1V163h1V163h1V162h1V163h1V165h1V165h1V160h1V163h1V166h1V164h1V165h1V166h1V167h1V167h1V162h1V164h1V164h1V167h1V164h1V161h1V165h1V167h1V163h1V163h1V166h1V165h1V165h1V163h1V164h1V167h1V166h1V164h1V166h1V164h1V165h1V166h1V166h1V165h1V166h1V166h1V165h1V167h1V166h1V166h1V169h1V166h1V167h1V168h1V169h1V166h1V162h1V165h1V167h1V170h1V169h1V169h1V168h1V163h1V166h1V169h1V169h1V167h1V169h1V167h1V166h1V166h1V167h1V164h1V168h1V171h1V170h1V168h1V166h1V168h1V169h1V170h1V167h1V169h1V168h1V168h1V166h1V165h1V169h1V170h1V169h1V165h1V166h1V166h1V167h1V170h1V173h-1V178h-1V178h-1V176h-1V176h-1V178h-1V176h-1V177h-1V177h-1V176h-1V175h-1V175h-1V178h-1V178h-1V177h-1V178h-1V175h-1V178h-1V177h-1V178h-1V180h-1V178h-1V175h-1V177h-1V173h-1V175h-1V176h-1V176h-1V175h-1V177h-1V173h-1V174h-1V176h-1V176h-1V176h-1V177h-1V173h-1V175h-1V178h-1V178h-1V176h-1V177h-1V181h-1V175h-1V175h-1V176h-1V177h-1V178h-1V174h-1V175h-1V172h-1V172h-1V174h-1V176h-1V176h-1V174h-1V175h-1V175h-1V175h-1V175h-1V180h-1V173h-1V175h-1V172h-1V172h-1V178h-1V178h-1V178h-1V177h-1V172h-1V173h-1V174h-1V172h-1V174h-1V173h-1V173h-1V178h-1V174h-1V173h-1V172h-1V172h-1V177h-1V173h-1V176h-1V173h-1V179h-1V171h-1V173h-1V171h-1V170h-1V171h-1V169h-1V173h-1V176h-1V172h-1V173h-1V171h-1V174h-1V171h-1V171h-1V170h-1V172h-1V173h-1V172h-1V174h-1V170h-1V170h-1V170h-1V171h-1V173h-1V171h-1V172h-1V173h-1V171h-1V170h-1V171h-1V172h-1V171h-1V170h-1V174h-1V173h-1V175h-1V171h-1V169h-1V170h-1V172h-1V172h-1V171h-1V172h-1V170h-1V170h-1V170h-1V171h-1V168h-1V169h-1V167h-1V167h-1V168h-1V170h-1V167h-1V168h-1V169h-1V167h-1V167h-1V167h-1V168h-1V168h-1V168h-1V169h-1V167h-1V168h-1V167h-1V167h-1V170h-1V167h-1V166h-1V169h-1V166h-1V169h-1V169h-1V170h-1V166h-1V167h-1V167h-1V166h-1V167h-1V169h-1V165h-1V168h-1V167h-1V167h-1V166h-1V166h-1V167h-1V170h-1V168h-1V168h-1V166h-1V165h-1V167h-1V166h-1V166h-1V165h-1V165h-1V165h-1V167h-1V165h-1V165h-1V165h-1V165h-1V163h-1V164h-1V167h-1V165h-1V167h-1V168h-1V162h-1V165h-1V166h-1V167h-1V163h-1V166h-1V167h-1V167h-1V166h-1V168h-1V163h-1V164h-1V165h-1V162h-1V168h-1V166h-1V164h-1V166h-1V162h-1V163h-1V167h-1V161h-1V166h-1V163h-1V160h-1V161h-1V165h-1V166h-1V167h-1V166h-1V166h-1V163h-1V160h-1V161h-1V164h-1V162h-1V164h-1V164h-1V169h-1V164h-1V161h-1V161h-1V164h-1V163h-1V164h-1V164h-1V164h-1V166h-1V162h-1V162h-1V161h-1V161h-1V161h-1V163h-1V159h-1V162h-1V157h-1V162h-1V161h-1V155h-1V156h-1V163h-1V161h-1V161h-1V158h-1V156h-1V161h-1V159h-1V159h-1V156h-1V155h-1V158h-1V157h-1V158h-1V155h-1V162h-1V155h-1V156h-1V158h-1V156h-1V152h-1V155h-1V159h-1V155h-1V157h-1V155h-1V157h-1V152h-1V158h-1V154h-1V153h-1V154h-1V158h-1V154h-1V154h-1V155h-1V151h-1V155h-1V157h-1V160h-1V154h-1V153h-1V152h-1V153h-1V151h-1V155h-1V152h-1V150h-1V154h-1V150h-1V158h-1V157h-1V152h-1V152h-1V151h-1V155h-1V156h-1V153h-1V152h-1V151h-1V149h-1V153h-1V151h-1V151h-1V152h-1V151h-1V154h-1V148h-1V151h-1V147h-1V149h-1V151h-1V147h-1V147h-1V142h-1V144h-1V147h-1V149h-1V145h-1V146h-1V145h-1V143h-1V139h-1V137h-1V137h-1V142h-1V140h-1V135h-1V140h-1V138h-1V135h-1V139h-1V134h-1V134h-1V135h-1V137h-1V138h-1V130h-1V133h-1V128h-1V133h-1V133h-1V125h-1V125h-1V129h-1V123h-1V122h-1V127h-1V124h-1V127h-1V123h-1V129h-1V128h-1V123h-1V126h-1V137h-1V123h-1V121h-1V117h-1V113h-1V110h-1V115h-1V113h-1V116h-1V115h-1V111h-1V115h-1V107h-1V112h-1V112h-1V112h-1V114h-1V114h-1V117h-1V106h-1V109h-1V112h-1V110h-1V112h-1V107h-1V109h-1V109h-1V117h-1V114h-1V118h-1V117h-1V113h-1V110h-1V111h-1V116h-1V116h-1V116h-1V117h-1V120h-1V122h-1V126h-1V123h-1V127h-1V122h-1V129h-1V122h-1V121h-1V127h-1V129h-1V125h-1V127h-1V126h-1V124h-1V124h-1V127h-1V124h-1V127h-1V128h-1V132h-1V128h-1V126h-1V124h-1V128h-1V127h-1V130h-1V130h-1V131h-1V128h-1V126h-1V135h-1V128h-1V128h-1V128h-1V131h-1V127h-1V127h-1V127h-1V134h-1V134h-1V130h-1V137h-1V129h-1V133h-1V130h-1V127h-1V130h-1V126h-1V134h-1V128h-1V129h-1V127h-1V126h-1V126h-1V127h-1V125h-1V126h-1V125h-1V123h-1V129h-1V123h-1V120h-1V122h-1Z"/><path d="M34 113h1V114h1V113h1V114h1V112h1V117h1V117h1V116h1V118h1V115h1V120h1V115h1V117h1V118h1V112h1V120h1V119h1V121h1V118h1V122h1V118h1V119h1V117h1V121h1V122h1V120h1V121h1V118h1V120h1V123h1V122h1V120h1V118h1V121h1V121h1V122h1V122h1V118h1V119h1V116h1V116h1V115h1V120h1V117h1V117h1V117h1V116h1V112h1V109h1V117h1V116h1V115h1V116h1V115h1V117h1V115h1V115h1V116h1V110h1V109h1V108h1V110h1V105h1V106h1V106h1V105h1V105h1V98h1V99h1V92h1V98h1V100h1V99h1V99h1V99h1V100h1V94h1V94h1V91h1V97h1V98h1V92h1V93h1V90h1V97h1V98h1V99h1V100h1V100h1V99h1V102h1V97h1V100h1V101h1V97h1V99h1V102h1V103h1V101h1V105h1V113h1V114h1V113h1V112h1V113h1V114h1V108h1V111h1V111h1V115h1V111h1V112h1V115h1V116h1V116h1V117h1V119h1V114h1V114h1V117h1V123h1V124h1V121h1V122h1V119h1V122h1V126h1V126h1V128h1V129h1V129h1V129h1V130h1V128h1V129h1V132h1V128h1V132h1V135h1V131h1V137h1V133h1V137h1V135h1V139h1V137h1V138h1V136h1V141h1V142h1V138h1V137h1V140h1V143h1V140h1V140h1V137h1V136h1V144h1V141h1V145h1V143h1V139h1V141h1V141h1V139h1V139h1V144h1V143h1V142h1V142h1V140h1V142h1V143h1V143h1V146h1V145h1V147h1V149h1V149h1V145h1V147h1V147h1V146h1V146h1V143h1V146h1V148h1V148h1V143h1V145h1V148h1V147h1V146h1V148h1V147h1V148h1V147h1V149h1V147h1V147h1V148h1V145h1V149h1V150h1V149h1V150h1V150h1V148h1V150h1V152h1V150h1V151h1V151h1V148h1V149h1V150h1V148h1V151h1V151h1V151h1V150h1V152h1V152h1V152h1V151h1V151h1V153h1V152h1V154h1V153h1V155h1V154h1V154h1V156h1V155h1V155h1V156h1V157h1V157h1V153h1V154h1V154h1V154h1V153h1V156h1V156h1V160h1V153h1V154h1V156h1V154h1V155h1V156h1V157h1V157h1V156h1V156h1V155h1V157h1V153h1V158h1V158h1V155h1V157h1V158h1V158h1V161h1V154h1V159h1V160h1V159h1V158h1V158h1V157h1V157h1V157h1V160h1V157h1V158h1V158h1V157h1V158h1V157h1V158h1V158h1V158h1V161h1V160h1V155h1V156h1V159h1V159h1V157h1V160h1V162h1V161h1V162h1V159h1V161h1V160h1V160h1V162h1V160h1V160h1V161h1V158h1V156h1V158h1V162h1V162h1V160h1V160h1V162h1V163h1V160h1V159h1V160h1V162h1V162h1V160h1V160h1V160h1V162h1V160h1V161h1V159h1V158h1V161h1V158h1V162h1V162h1V161h1V158h1V162h1V162h1V161h1V160h1V159h1V163h1V163h1V163h1V163h1V164h1V163h1V164h1V161h1V162h1V162h1V161h1V163h1V164h1V164h1V164h1V163h1V162h1V161h1V162h1V165h1V164h1V164h1V161h1V160h1V163h1V163h1V164h1V163h1V165h1V164h1V166h1V166h1V164h1V163h1V165h1V163h1V165h1V165h1V165h1V167h1V165h1V165h1V166h1V165h1V165h1V164h1V165h1V164h1V166h1V166h1V165h1V166h1V167h1V164h1V166h1V167h1V169h1V168h1V162h1V164h1V164h1V168h1V165h1V165h1V167h1V167h1V165h1V163h1V167h1V166h1V168h1V166h1V168h1V167h1V167h1V168h1V166h1V164h1V166h1V166h1V169h1V166h1V166h1V168h1V169h1V168h1V167h1V167h1V170h1V166h1V169h1V169h1V169h1V167h1V169h1V166h1V168h1V170h1V170h1V169h1V169h1V164h1V167h1V169h1V170h1V168h1V171h1V167h1V167h1V166h1V169h1V168h1V172h1V172h1V171h1V170h1V166h1V168h1V169h1V171h1V168h1V170h1V171h1V168h1V167h1V169h1V170h1V170h1V170h1V166h1V168h1V166h1V169h1V176h-1V177h-1V175h-1V175h-1V176h-1V173h-1V176h-1V176h-1V174h-1V175h-1V175h-1V177h-1V176h-1V176h-1V177h-1V173h-1V176h-1V175h-1V177h-1V179h-1V177h-1V174h-1V174h-1V172h-1V174h-1V175h-1V176h-1V173h-1V173h-1V173h-1V173h-1V174h-1V175h-1V175h-1V176h-1V173h-1V174h-1V175h-1V176h-1V175h-1V176h-1V173h-1V174h-1V175h-1V175h-1V177h-1V177h-1V173h-1V173h-1V170h-1V171h-1V173h-1V176h-1V174h-1V172h-1V174h-1V173h-1V174h-1V173h-1V179h-1V173h-1V173h-1V172h-1V171h-1V174h-1V175h-1V177h-1V177h-1V172h-1V172h-1V172h-1V172h-1V172h-1V173h-1V170h-1V175h-1V172h-1V172h-1V172h-1V170h-1V172h-1V172h-1V174h-1V171h-1V178h-1V168h-1V173h-1V171h-1V169h-1V170h-1V168h-1V172h-1V174h-1V170h-1V172h-1V171h-1V170h-1V168h-1V171h-1V169h-1V170h-1V173h-1V171h-1V170h-1V170h-1V169h-1V170h-1V168h-1V173h-1V170h-1V170h-1V171h-1V170h-1V169h-1V170h-1V171h-1V168h-1V169h-1V170h-1V172h-1V169h-1V170h-1V168h-1V169h-1V172h-1V171h-1V169h-1V169h-1V169h-1V166h-1V168h-1V170h-1V168h-1V168h-1V166h-1V166h-1V167h-1V170h-1V167h-1V167h-1V168h-1V165h-1V164h-1V166h-1V167h-1V167h-1V167h-1V167h-1V166h-1V168h-1V166h-1V166h-1V169h-1V166h-1V166h-1V165h-1V165h-1V167h-1V168h-1V169h-1V165h-1V166h-1V167h-1V165h-1V166h-1V163h-1V165h-1V166h-1V166h-1V166h-1V164h-1V166h-1V167h-1V170h-1V168h-1V167h-1V165h-1V164h-1V166h-1V165h-1V165h-1V164h-1V164h-1V163h-1V166h-1V165h-1V165h-1V163h-1V165h-1V163h-1V164h-1V164h-1V165h-1V165h-1V167h-1V162h-1V164h-1V165h-1V161h-1V162h-1V164h-1V166h-1V166h-1V165h-1V166h-1V163h-1V163h-1V161h-1V161h-1V164h-1V164h-1V163h-1V166h-1V162h-1V163h-1V164h-1V161h-1V164h-1V163h-1V159h-1V160h-1V161h-1V165h-1V161h-1V164h-1V166h-1V162h-1V158h-1V160h-1V159h-1V160h-1V163h-1V164h-1V163h-1V164h-1V160h-1V160h-1V162h-1V162h-1V163h-1V163h-1V159h-1V158h-1V161h-1V160h-1V160h-1V156h-1V161h-1V158h-1V158h-1V157h-1V155h-1V159h-1V157h-1V155h-1V154h-1V158h-1V157h-1V157h-1V156h-1V154h-1V157h-1V157h-1V158h-1V155h-1V152h-1V155h-1V156h-1V157h-1V155h-1V158h-1V155h-1V156h-1V155h-1V156h-1V152h-1V154h-1V155h-1V154h-1V157h-1V155h-1V152h-1V151h-1V152h-1V154h-1V152h-1V151h-1V157h-1V154h-1V153h-1V154h-1V150h-1V150h-1V154h-1V157h-1V152h-1V151h-1V148h-1V150h-1V148h-1V152h-1V151h-1V149h-1V153h-1V150h-1V151h-1V156h-1V147h-1V151h-1V149h-1V155h-1V153h-1V150h-1V151h-1V150h-1V147h-1V147h-1V151h-1V148h-1V151h-1V148h-1V153h-1V147h-1V150h-1V144h-1V145h-1V145h-1V146h-1V142h-1V141h-1V143h-1V145h-1V147h-1V144h-1V145h-1V140h-1V142h-1V137h-1V136h-1V136h-1V138h-1V139h-1V134h-1V136h-1V138h-1V133h-1V134h-1V133h-1V132h-1V128h-1V132h-1V137h-1V127h-1V129h-1V124h-1V128h-1V132h-1V124h-1V125h-1V123h-1V122h-1V119h-1V125h-1V124h-1V126h-1V122h-1V129h-1V125h-1V119h-1V126h-1V137h-1V122h-1V120h-1V113h-1V113h-1V107h-1V115h-1V111h-1V116h-1V114h-1V106h-1V114h-1V107h-1V112h-1V109h-1V108h-1V110h-1V108h-1V106h-1V100h-1V108h-1V110h-1V109h-1V107h-1V107h-1V108h-1V107h-1V112h-1V113h-1V111h-1V116h-1V112h-1V106h-1V110h-1V115h-1V114h-1V116h-1V116h-1V119h-1V115h-1V120h-1V122h-1V121h-1V120h-1V123h-1V121h-1V120h-1V125h-1V127h-1V125h-1V121h-1V124h-1V123h-1V123h-1V127h-1V121h-1V126h-1V127h-1V128h-1V127h-1V126h-1V124h-1V127h-1V123h-1V129h-1V130h-1V126h-1V128h-1V126h-1V128h-1V127h-1V127h-1V127h-1V128h-1V127h-1V127h-1V125h-1V134h-1V130h-1V130h-1V130h-1V128h-1V128h-1V128h-1V126h-1V124h-1V125h-1V129h-1V125h-1V127h-1V126h-1V126h-1V126h-1V126h-1V123h-1V126h-1V121h-1V121h-1V129h-1V119h-1V119h-1V122h-1Z"/></g>
<g fill="#FF6464"><path fill-opacity="0.20" d="M33 143h1V136h1V151h1V147h1V146h1V149h1V146h1V147h1V145h1V145h1V154h1V157h1V153h1V154h1V151h1V156h1V156h1V154h1V154h1V153h1V152h1V154h1V154h1V154h1V155h1V153h1V158h1V157h1V156h1V156h1V159h1V160h1V159h1V160h1V154h1V157h1V157h1V160h1V158h1V158h1V158h1V158h1V158h1V158h1V154h1V156h1V159h1V157h1V155h1V150h1V155h1V155h1V153h1V150h1V149h1V150h1V150h1V152h1V149h1V143h1V143h1V147h1V145h1V143h1V144h1V140h1V141h1V140h1V139h1V138h1V138h1V135h1V135h1V135h1V134h1V136h1V137h1V141h1V141h1V134h1V130h1V136h1V135h1V125h1V124h1V139h1V129h1V127h1V128h1V133h1V132h1V131h1V139h1V135h1V135h1V135h1V139h1V146h1V95h1V94h1V146h1V148h1V150h1V150h1V152h1V156h1V157h1V156h1V160h1V160h1V166h1V154h1V159h1V165h1V166h1V166h1V170h1V170h1V166h1V166h1V173h1V173h1V172h1V173h1V176h1V176h1V176h1V180h1V182h1V183h1V184h1V184h1V176h1V177h1V185h1V186h1V187h1V187h1V186h1V185h1V186h1V185h1V186h1V190h1V193h1V193h1V192h1V191h1V191h1V188h1V188h1V195h1V195h1V195h1V198h1V198h1V198h1V196h1V203h1V203h1V202h1V200h1V199h1V202h1V203h1V203h1V202h1V196h1V199h1V199h1V202h1V205h1V201h1V201h1V205h1V206h1V206h1V205h1V205h1V207h1V203h1V208h1V207h1V202h1V202h1V202h1V207h1V205h1V205h1V204h1V208h1V206h1V205h1V209h1V207h1V208h1V208h1V210h1V208h1V207h1V207h1V213h1V208h1V211h1V208h1V207h1V206h1V209h1V211h1V213h1V213h1V212h1V212h1V211h1V212h1V212h1V214h1V212h1V211h1V217h1V213h1V214h1V215h1V215h1V217h1V215h1V211h1V212h1V215h1V215h1V216h1V214h1V215h1V215h1V217h1V217h1V219h1V219h1V219h1V219h1V220h1V222h1V214h1V215h1V218h1V217h1V219h1V219h1V221h1V220h1V221h1V221h1V221h1V219h1V219h1V220h1V220h1V222h1V222h1V217h1V218h1V222h1V223h1V226h1V225h1V225h1V224h1V225h1V223h1V222h1V222h1V224h1V225h1V226h1V227h1V225h1V224h1V225h1V227h1V226h1V225h1V224h1V223h1V224h1V227h1V224h1V224h1V223h1V224h1V227h1V225h1V225h1V228h1V228h1V228h1V227h1V228h1V227h1V229h1V227h1V227h1V225h1V226h1V228h1V229h1V228h1V226h1V226h1V227h1V227h1V231h1V232h1V229h1V228h1V228h1V231h1V228h1V228h1V229h1V229h1V232h1V232h1V234h1V229h1V228h1V228h1V231h1V233h1V231h1V230h1V231h1V230h1V233h1V234h1V233h1V233h1V231h1V231h1V232h1V232h1V233h1V232h1V231h1V231h1V233h1V232h1V233h1V234h1V235h1V235h1V235h1V231h1V231h1V228h1V228h1V233h1V232h1V233h1V237h1V237h1V234h1V233h1V237h1V233h1V233h1V235h1V235h1V235h1V236h1V234h1V234h1V236h1V237h1V239h1V238h1V238h1V236h1V233h1V238h1V236h1V235h1V234h1V234h1V239h1V239h1V237h1V238h1V238h1V239h1V237h1V236h1V237h1V235h1V236h1V234h1V236h1V237h1V239h1V238h1V234h1V234h1V239h1V238h1V239h1V236h1V236h1V238h1V237h1V239h1V241h1V241h1V239h1V240h1V241h1V241h1V242h1V240h1V239h1V240h1V237h1V239h1V240h1V238h1V241h1V240h1V241h1V240h1V240h1V241h1V243h1V241h1V241h1V241h1V243h1V241h1V241h1V243h1V242h1V241h1V241h1V239h1V239h1V241h1V241h1V239h1V240h1V241h1V241h1V243h1V243h1V243h1V242h1V244h1V242h1V243h1V242h1V240h1V240h1V242h1V240h1V241h1V240h1V241h1V244h1V243h1V242h1V242h1V243h1V243h1V243h1V242h1V241h1V242h1V246h1V253h-1V254h-1V252h-1V256h-1V252h-1V250h-1V250h-1V251h-1V250h-1V255h-1V255h-1V257h-1V256h-1V254h-1V253h-1V253h-1V252h-1V253h-1V251h-1V253h-1V253h-1V251h-1V251h-1V251h-1V251h-1V251h-1V252h-1V250h-1V250h-1V253h-1V253h-1V252h-1V249h-1V253h-1V251h-1V253h-1V253h-1V253h-1V250h-1V254h-1V254h-1V251h-1V249h-1V250h-1V251h-1V251h-1V253h-1V253h-1V253h-1V253h-1V249h-1V249h-1V253h-1V252h-1V248h-1V250h-1V254h-1V254h-1V252h-1V251h-1V253h-1V253h-1V252h-1V250h-1V250h-1V249h-1V251h-1V252h-1V252h-1V248h-1V250h-1V250h-1V249h-1V249h-1V249h-1V248h-1V251h-1V249h-1V250h-1V251h-1V250h-1V252h-1V252h-1V252h-1V251h-1V246h-1V247h-1V247h-1V246h-1V247h-1V248h-1V249h-1V248h-1V247h-1V249h-1V248h-1V246h-1V251h-1V250h-1V250h-1V249h-1V249h-1V248h-1V247h-1V245h-1V245h-1V246h-1V246h-1V248h-1V247h-1V246h-1V248h-1V248h-1V243h-1V247h-1V246h-1V242h-1V247h-1V246h-1V243h-1V247h-1V249h-1V249h-1V245h-1V244h-1V242h-1V242h-1V242h-1V241h-1V243h-1V245h-1V245h-1V241h-1V241h-1V241h-1V243h-1V242h-1V240h-1V242h-1V241h-1V246h-1V241h-1V241h-1V239h-1V242h-1V244h-1V244h-1V246h-1V246h-1V244h-1V244h-1V247h-1V246h-1V243h-1V242h-1V241h-1V241h-1V242h-1V239h-1V241h-1V241h-1V239h-1V240h-1V242h-1V242h-1V243h-1V243h-1V244h-1V241h-1V243h-1V243h-1V239h-1V241h-1V242h-1V246h-1V246h-1V239h-1V240h-1V239h-1V238h-1V238h-1V238h-1V238h-1V239h-1V239h-1V237h-1V236h-1V236h-1V239h-1V237h-1V237h-1V236h-1V235h-1V239h-1V239h-1V239h-1V240h-1V238h-1V238h-1V241h-1V239h-1V237h-1V235h-1V237h-1V235h-1V234h-1V234h-1V235h-1V235h-1V236h-1V236h-1V235h-1V235h-1V234h-1V230h-1V231h-1V233h-1V233h-1V231h-1V229h-1V231h-1V230h-1V230h-1V231h-1V233h-1V233h-1V233h-1V232h-1V232h-1V230h-1V234h-1V235h-1V230h-1V228h-1V233h-1V232h-1V232h-1V230h-1V229h-1V228h-1V227h-1V227h-1V228h-1V227h-1V225h-1V225h-1V224h-1V229h-1V226h-1V227h-1V226h-1V225h-1V224h-1V226h-1V227h-1V225h-1V226h-1V227h-1V227h-1V231h-1V226h-1V231h-1V227h-1V226h-1V224h-1V232h-1V233h-1V225h-1V222h-1V223h-1V223h-1V223h-1V224h-1V224h-1V221h-1V218h-1V219h-1V219h-1V220h-1V219h-1V222h-1V217h-1V217h-1V214h-1V215h-1V221h-1V222h-1V222h-1V220h-1V217h-1V224h-1V224h-1V223h-1V223h-1V219h-1V219h-1V215h-1V219h-1V218h-1V219h-1V220h-1V218h-1V222h-1V223h-1V222h-1V217h-1V219h-1V218h-1V217h-1V218h-1V217h-1V218h-1V219h-1V219h-1V217h-1V218h-1V219h-1V219h-1V215h-1V213h-1V211h-1V210h-1V212h-1V213h-1V212h-1V212h-1V207h-1V208h-1V209h-1V211h-1V211h-1V205h-1V203h-1V203h-1V209h-1V204h-1V203h-1V210h-1V209h-1V200h-1V200h-1V202h-1V205h-1V207h-1V208h-1V197h-1V198h-1V193h-1V199h-1V192h-1V192h-1V190h-1V187h-1V188h-1V188h-1V185h-1V184h-1V191h-1V191h-1V184h-1V188h-1V182h-1V186h-1V185h-1V181h-1V182h-1V175h-1V173h-1V176h-1V176h-1V166h-1V167h-1V167h-1V165h-1V169h-1V169h-1V158h-1V158h-1V158h-1V156h-1V155h-1V160h-1V161h-1V158h-1V158h-1V154h-1V154h-1V169h-1V156h-1V158h-1V158h-1V165h-1V165h-1V159h-1V160h-1V159h-1V154h-1V156h-1V164h-1V165h-1V157h-1V163h-1V162h-1V158h-1V158h-1V160h-1V159h-1V163h-1V162h-1V161h-1V161h-1V164h-1V164h-1V163h-1V160h-1V163h-1V173h-1V174h-1V162h-1V167h-1V176h-1V179h-1V180h-1V171h-1V170h-1V175h-1V174h-1V175h-1V172h-1V171h-1V172h-1V174h-1V176h-1V176h-1V177h-1V178h-1V174h-1V175h-1V180h-1V174h-1V175h-1V174h-1V176h-1V175h-1V173h-1V184h-1V183h-1V182h-1V175h-1V180h-1V180h-1V177h-1V173h-1V172h-1V171h-1V175h-1V176h-1V176h-1V172h-1V173h-1V176h-1V170h-1V171h-1V171h-1V171h-1V169h-1V170h-1V165h-1V166h-1V168h-1V167h-1V162h-1V166h-1V154h-1Z"/><path fill-opacity="0.45" d="M34 136h1V151h1V151h1V146h1V149h1V146h1V149h1V146h1V153h1V155h1V158h1V154h1V156h1V151h1V158h1V156h1V157h1V155h1V157h1V152h1V154h1V158h1V154h1V155h1V153h1V160h1V157h1V157h1V159h1V159h1V160h1V160h1V161h1V154h1V158h1V157h1V161h1V158h1V159h1V159h1V158h1V159h1V159h1V154h1V157h1V159h1V158h1V157h1V151h1V155h1V156h1V155h1V150h1V149h1V152h1V150h1V153h1V150h1V143h1V149h1V147h1V145h1V144h1V148h1V141h1V143h1V140h1V146h1V139h1V139h1V135h1V138h1V135h1V134h1V137h1V138h1V141h1V141h1V139h1V131h1V137h1V140h1V134h1V124h1V139h1V129h1V128h1V128h1V140h1V141h1V132h1V140h1V135h1V135h1V139h1V140h1V149h1V142h1V95h1V147h1V148h1V153h1V150h1V153h1V157h1V158h1V156h1V161h1V163h1V166h1V154h1V159h1V165h1V167h1V167h1V171h1V171h1V169h1V166h1V174h1V174h1V172h1V173h1V182h1V178h1V177h1V183h1V183h1V184h1V186h1V185h1V176h1V183h1V186h1V187h1V193h1V190h1V186h1V186h1V187h1V185h1V188h1V191h1V194h1V194h1V192h1V192h1V191h1V188h1V197h1V197h1V195h1V195h1V199h1V199h1V198h1V197h1V203h1V204h1V203h1V207h1V200h1V203h1V204h1V204h1V204h1V197h1V199h1V202h1V202h1V206h1V202h1V205h1V205h1V207h1V206h1V205h1V205h1V207h1V203h1V208h1V209h1V202h1V210h1V203h1V207h1V205h1V205h1V205h1V209h1V206h1V206h1V210h1V207h1V210h1V208h1V212h1V208h1V207h1V210h1V214h1V208h1V212h1V209h1V212h1V206h1V211h1V212h1V215h1V214h1V213h1V213h1V212h1V215h1V213h1V215h1V214h1V212h1V217h1V214h1V215h1V216h1V215h1V217h1V216h1V211h1V219h1V215h1V216h1V216h1V215h1V216h1V215h1V217h1V218h1V221h1V220h1V220h1V219h1V222h1V223h1V214h1V223h1V218h1V218h1V219h1V221h1V221h1V220h1V221h1V221h1V222h1V219h1V220h1V220h1V222h1V222h1V222h1V218h1V221h1V223h1V226h1V226h1V225h1V225h1V225h1V225h1V224h1V222h1V224h1V225h1V227h1V227h1V229h1V228h1V225h1V226h1V228h1V230h1V226h1V225h1V223h1V229h1V229h1V227h1V224h1V223h1V228h1V228h1V226h1V228h1V230h1V228h1V228h1V227h1V228h1V227h1V230h1V228h1V227h1V225h1V226h1V229h1V230h1V228h1V228h1V226h1V227h1V231h1V231h1V232h1V232h1V228h1V228h1V232h1V229h1V228h1V232h1V230h1V233h1V234h1V234h1V229h1V229h1V230h1V231h1V234h1V232h1V231h1V231h1V231h1V233h1V234h1V233h1V234h1V232h1V232h1V232h1V233h1V234h1V233h1V231h1V234h1V233h1V233h1V234h1V234h1V235h1V235h1V236h1V235h1V232h1V228h1V233h1V234h1V233h1V236h1V237h1V237h1V235h1V234h1V238h1V233h1V236h1V236h1V236h1V235h1V236h1V235h1V235h1V236h1V238h1V239h1V240h1V238h1V238h1V234h1V238h1V236h1V236h1V235h1V237h1V239h1V239h1V237h1V238h1V238h1V239h1V238h1V237h1V238h1V236h1V237h1V235h1V237h1V238h1V239h1V238h1V235h1V234h1V239h1V239h1V240h1V241h1V237h1V240h1V237h1V239h1V242h1V242h1V239h1V241h1V241h1V241h1V242h1V241h1V239h1V240h1V238h1V240h1V241h1V239h1V242h1V241h1V242h1V241h1V240h1V242h1V244h1V242h1V241h1V241h1V244h1V244h1V242h1V243h1V243h1V242h1V241h1V241h1V239h1V241h1V241h1V240h1V243h1V242h1V241h1V243h1V243h1V243h1V242h1V246h1V242h1V243h1V242h1V240h1V242h1V242h1V241h1V241h1V240h1V243h1V245h1V244h1V243h1V243h1V243h1V243h1V243h1V245h1V242h1V243h1V253h-1V251h-1V255h-1V251h-1V250h-1V250h-1V250h-1V250h-1V254h-1V253h-1V256h-1V252h-1V254h-1V252h-1V250h-1V251h-1V252h-1V251h-1V253h-1V252h-1V251h-1V251h-1V249h-1V251h-1V251h-1V252h-1V248h-1V249h-1V252h-1V253h-1V247h-1V249h-1V253h-1V250h-1V253h-1V252h-1V250h-1V250h-1V249h-1V253h-1V248h-1V248h-1V249h-1V251h-1V250h-1V253h-1V250h-1V253h-1V252h-1V249h-1V247h-1V252h-1V251h-1V248h-1V248h-1V251h-1V253h-1V251h-1V250h-1V252h-1V253h-1V249h-1V250h-1V249h-1V249h-1V251h-1V251h-1V251h-1V247h-1V250h-1V246h-1V248h-1V248h-1V248h-1V246h-1V251h-1V249h-1V250h-1V250h-1V249h-1V249h-1V252h-1V252h-1V249h-1V246h-1V247h-1V247h-1V246h-1V246h-1V246h-1V248h-1V247h-1V243h-1V248h-1V248h-1V246h-1V250h-1V245h-1V249h-1V246h-1V248h-1V248h-1V245h-1V244h-1V244h-1V245h-1V245h-1V247h-1V247h-1V245h-1V248h-1V245h-1V243h-1V246h-1V246h-1V241h-1V247h-1V241h-1V242h-1V245h-1V247h-1V248h-1V244h-1V244h-1V241h-1V241h-1V241h-1V240h-1V243h-1V243h-1V245h-1V241h-1V241h-1V240h-1V242h-1V242h-1V239h-1V241h-1V241h-1V246h-1V241h-1V240h-1V239h-1V242h-1V240h-1V244h-1V241h-1V246h-1V243h-1V243h-1V246h-1V241h-1V243h-1V241h-1V241h-1V241h-1V242h-1V239h-1V240h-1V239h-1V238h-1V238h-1V242h-1V242h-1V243h-1V241h-1V244h-1V239h-1V243h-1V239h-1V237h-1V240h-1V242h-1V242h-1V246h-1V239h-1V240h-1V239h-1V236h-1V237h-1V237h-1V237h-1V238h-1V237h-1V237h-1V233h-1V236h-1V239h-1V237h-1V234h-1V235h-1V234h-1V238h-1V239h-1V237h-1V240h-1V235h-1V237h-1V240h-1V237h-1V237h-1V234h-1V237h-1V233h-1V234h-1V233h-1V234h-1V234h-1V236h-1V235h-1V235h-1V234h-1V232h-1V229h-1V230h-1V233h-1V232h-1V230h-1V229h-1V230h-1V230h-1V229h-1V231h-1V232h-1V233h-1V231h-1V228h-1V231h-1V230h-1V233h-1V234h-1V229h-1V228h-1V233h-1V228h-1V231h-1V229h-1V227h-1V227h-1V227h-1V227h-1V227h-1V224h-1V224h-1V225h-1V224h-1V229h-1V226h-1V227h-1V226h-1V224h-1V223h-1V224h-1V227h-1V225h-1V225h-1V226h-1V227h-1V230h-1V225h-1V230h-1V226h-1V224h-1V223h-1V223h-1V232h-1V225h-1V222h-1V222h-1V222h-1V221h-1V224h-1V221h-1V220h-1V218h-1V219h-1V217h-1V219h-1V218h-1V221h-1V217h-1V217h-1V213h-1V215h-1V220h-1V220h-1V222h-1V219h-1V217h-1V223h-1V220h-1V222h-1V222h-1V218h-1V219h-1V215h-1V218h-1V215h-1V218h-1V220h-1V217h-1V220h-1V222h-1V221h-1V216h-1V219h-1V214h-1V216h-1V217h-1V216h-1V217h-1V218h-1V218h-1V217h-1V217h-1V219h-1V214h-1V214h-1V211h-1V210h-1V210h-1V210h-1V212h-1V211h-1V204h-1V207h-1V207h-1V209h-1V208h-1V211h-1V204h-1V202h-1V201h-1V209h-1V204h-1V202h-1V210h-1V201h-1V200h-1V199h-1V202h-1V202h-1V205h-1V207h-1V197h-1V197h-1V188h-1V199h-1V192h-1V190h-1V187h-1V186h-1V188h-1V182h-1V184h-1V181h-1V190h-1V184h-1V184h-1V188h-1V182h-1V185h-1V174h-1V177h-1V181h-1V174h-1V172h-1V172h-1V176h-1V166h-1V167h-1V165h-1V165h-1V163h-1V169h-1V157h-1V156h-1V157h-1V156h-1V154h-1V156h-1V161h-1V155h-1V158h-1V153h-1V153h-1V168h-1V153h-1V156h-1V157h-1V165h-1V158h-1V153h-1V159h-1V151h-1V152h-1V154h-1V157h-1V164h-1V156h-1V163h-1V157h-1V158h-1V152h-1V159h-1V158h-1V162h-1V155h-1V160h-1V161h-1V163h-1V159h-1V162h-1V160h-1V162h-1V162h-1V174h-1V161h-1V167h-1V176h-1V176h-1V180h-1V171h-1V168h-1V175h-1V173h-1V174h-1V172h-1V171h-1V171h-1V174h-1V176h-1V171h-1V173h-1V178h-1V174h-1V174h-1V180h-1V171h-1V175h-1V169h-1V176h-1V172h-1V172h-1V183h-1V181h-1V176h-1V174h-1V180h-1V177h-1V176h-1V173h-1V171h-1V170h-1V175h-1V175h-1V172h-1V169h-1V172h-1V176h-1V164h-1V171h-1V171h-1V168h-1V164h-1V170h-1V164h-1V165h-1V167h-1V162h-1V161h-1V166h-1Z"/><path d="M34 137h1V152h1V151h1V147h1V150h1V150h1V154h1V153h1V154h1V158h1V158h1V158h1V158h1V152h1V159h1V159h1V158h1V157h1V160h1V159h1V160h1V159h1V160h1V155h1V154h1V162h1V158h1V164h1V160h1V161h1V160h1V160h1V164h1V155h1V160h1V162h1V162h1V158h1V161h1V162h1V159h1V163h1V159h1V155h1V160h1V162h1V159h1V158h1V151h1V156h1V158h1V159h1V151h1V149h1V153h1V151h1V153h1V150h1V149h1V151h1V148h1V146h1V145h1V152h1V141h1V143h1V144h1V148h1V143h1V141h1V138h1V140h1V136h1V138h1V138h1V139h1V141h1V142h1V139h1V131h1V137h1V141h1V135h1V137h1V140h1V130h1V136h1V129h1V140h1V142h1V142h1V141h1V136h1V139h1V143h1V140h1V150h1V142h1V114h1V149h1V152h1V154h1V153h1V156h1V159h1V158h1V157h1V166h1V164h1V166h1V155h1V165h1V165h1V168h1V171h1V172h1V173h1V172h1V174h1V176h1V175h1V177h1V174h1V183h1V184h1V179h1V184h1V183h1V191h1V187h1V186h1V185h1V183h1V186h1V188h1V194h1V190h1V191h1V186h1V190h1V186h1V189h1V198h1V194h1V195h1V199h1V193h1V194h1V193h1V198h1V197h1V198h1V196h1V201h1V201h1V200h1V197h1V207h1V204h1V203h1V208h1V204h1V204h1V205h1V206h1V205h1V197h1V203h1V206h1V205h1V209h1V204h1V208h1V207h1V208h1V207h1V206h1V206h1V211h1V204h1V209h1V210h1V203h1V210h1V206h1V208h1V208h1V207h1V209h1V210h1V207h1V210h1V211h1V208h1V211h1V212h1V212h1V209h1V208h1V210h1V215h1V209h1V212h1V209h1V213h1V209h1V212h1V213h1V216h1V216h1V217h1V218h1V215h1V216h1V218h1V217h1V215h1V214h1V217h1V218h1V216h1V216h1V216h1V221h1V220h1V214h1V220h1V219h1V217h1V217h1V217h1V221h1V216h1V217h1V219h1V222h1V221h1V221h1V220h1V223h1V224h1V222h1V224h1V221h1V218h1V224h1V222h1V222h1V221h1V224h1V222h1V222h1V220h1V221h1V220h1V223h1V224h1V222h1V222h1V226h1V225h1V227h1V227h1V227h1V226h1V226h1V226h1V224h1V225h1V225h1V226h1V227h1V230h1V230h1V228h1V226h1V226h1V229h1V231h1V226h1V225h1V227h1V229h1V229h1V227h1V228h1V228h1V231h1V230h1V230h1V229h1V231h1V230h1V229h1V228h1V230h1V228h1V231h1V228h1V229h1V229h1V227h1V229h1V231h1V230h1V231h1V228h1V229h1V232h1V232h1V233h1V232h1V231h1V229h1V232h1V232h1V233h1V233h1V234h1V233h1V234h1V235h1V230h1V236h1V231h1V232h1V235h1V233h1V232h1V232h1V233h1V234h1V236h1V236h1V236h1V234h1V236h1V233h1V235h1V236h1V233h1V236h1V236h1V237h1V233h1V234h1V235h1V236h1V237h1V238h1V235h1V234h1V240h1V233h1V235h1V236h1V238h1V239h1V238h1V237h1V234h1V239h1V238h1V237h1V239h1V237h1V237h1V237h1V236h1V235h1V236h1V241h1V240h1V240h1V239h1V238h1V234h1V240h1V238h1V237h1V237h1V239h1V240h1V240h1V238h1V239h1V239h1V240h1V238h1V237h1V239h1V237h1V238h1V235h1V239h1V238h1V240h1V240h1V241h1V239h1V240h1V240h1V240h1V241h1V242h1V241h1V241h1V240h1V243h1V242h1V240h1V244h1V242h1V242h1V243h1V241h1V240h1V241h1V238h1V241h1V243h1V239h1V243h1V243h1V242h1V242h1V241h1V243h1V244h1V242h1V242h1V243h1V244h1V246h1V244h1V245h1V243h1V243h1V242h1V242h1V241h1V242h1V242h1V244h1V243h1V243h1V243h1V244h1V243h1V243h1V243h1V246h1V244h1V244h1V244h1V243h1V244h1V245h1V241h1V242h1V241h1V245h1V245h1V244h1V243h1V244h1V244h1V244h1V246h1V246h1V242h1V246h1V253h-1V250h-1V255h-1V250h-1V250h-1V249h-1V248h-1V248h-1V251h-1V252h-1V256h-1V251h-1V253h-1V249h-1V250h-1V249h-1V251h-1V249h-1V248h-1V251h-1V249h-1V249h-1V249h-1V250h-1V250h-1V251h-1V248h-1V248h-1V250h-1V253h-1V246h-1V249h-1V250h-1V245h-1V252h-1V251h-1V247h-1V249h-1V249h-1V251h-1V247h-1V247h-1V247h-1V250h-1V249h-1V251h-1V250h-1V252h-1V250h-1V248h-1V245h-1V249h-1V249h-1V247h-1V247h-1V251h-1V248h-1V251h-1V248h-1V252h-1V249h-1V249h-1V248h-1V248h-1V247h-1V250h-1V249h-1V247h-1V247h-1V247h-1V246h-1V247h-1V244h-1V248h-1V246h-1V248h-1V246h-1V249h-1V247h-1V246h-1V246h-1V247h-1V247h-1V246h-1V245h-1V245h-1V247h-1V245h-1V244h-1V245h-1V243h-1V243h-1V243h-1V244h-1V248h-1V245h-1V246h-1V244h-1V245h-1V244h-1V247h-1V248h-1V244h-1V243h-1V244h-1V242h-1V245h-1V245h-1V246h-1V243h-1V245h-1V244h-1V241h-1V243h-1V244h-1V241h-1V242h-1V239h-1V242h-1V241h-1V246h-1V246h-1V243h-1V243h-1V241h-1V241h-1V241h-1V239h-1V241h-1V242h-1V241h-1V239h-1V241h-1V240h-1V239h-1V241h-1V239h-1V241h-1V240h-1V243h-1V240h-1V239h-1V238h-1V241h-1V239h-1V243h-1V240h-1V241h-1V243h-1V243h-1V242h-1V239h-1V241h-1V241h-1V235h-1V240h-1V241h-1V238h-1V238h-1V238h-1V237h-1V237h-1V240h-1V241h-1V242h-1V239h-1V241h-1V239h-1V240h-1V239h-1V236h-1V240h-1V238h-1V239h-1V239h-1V238h-1V239h-1V239h-1V236h-1V234h-1V236h-1V237h-1V237h-1V236h-1V236h-1V233h-1V235h-1V237h-1V237h-1V233h-1V235h-1V234h-1V233h-1V238h-1V236h-1V239h-1V234h-1V233h-1V240h-1V237h-1V236h-1V231h-1V236h-1V232h-1V233h-1V233h-1V233h-1V233h-1V231h-1V232h-1V235h-1V234h-1V228h-1V228h-1V229h-1V233h-1V230h-1V228h-1V227h-1V229h-1V229h-1V228h-1V230h-1V231h-1V227h-1V231h-1V227h-1V229h-1V229h-1V233h-1V234h-1V229h-1V228h-1V232h-1V226h-1V230h-1V228h-1V226h-1V227h-1V225h-1V226h-1V226h-1V223h-1V223h-1V225h-1V223h-1V228h-1V225h-1V226h-1V225h-1V222h-1V222h-1V223h-1V222h-1V223h-1V223h-1V226h-1V226h-1V230h-1V224h-1V230h-1V223h-1V223h-1V223h-1V222h-1V224h-1V224h-1V220h-1V221h-1V218h-1V217h-1V221h-1V220h-1V218h-1V217h-1V217h-1V216h-1V219h-1V216h-1V217h-1V215h-1V216h-1V213h-1V214h-1V220h-1V219h-1V221h-1V214h-1V217h-1V217h-1V218h-1V216h-1V214h-1V216h-1V215h-1V213h-1V216h-1V214h-1V215h-1V219h-1V217h-1V220h-1V222h-1V217h-1V215h-1V213h-1V214h-1V215h-1V216h-1V213h-1V216h-1V216h-1V213h-1V213h-1V212h-1V218h-1V212h-1V213h-1V210h-1V209h-1V209h-1V210h-1V209h-1V208h-1V203h-1V206h-1V205h-1V208h-1V207h-1V203h-1V204h-1V202h-1V200h-1V204h-1V203h-1V199h-1V203h-1V200h-1V200h-1V197h-1V199h-1V198h-1V204h-1V197h-1V194h-1V197h-1V188h-1V198h-1V192h-1V187h-1V187h-1V181h-1V180h-1V182h-1V182h-1V181h-1V182h-1V183h-1V183h-1V187h-1V182h-1V182h-1V173h-1V176h-1V175h-1V168h-1V168h-1V169h-1V174h-1V164h-1V166h-1V165h-1V164h-1V162h-1V156h-1V156h-1V156h-1V150h-1V155h-1V154h-1V155h-1V155h-1V153h-1V154h-1V151h-1V147h-1V168h-1V151h-1V149h-1V147h-1V152h-1V157h-1V153h-1V159h-1V150h-1V151h-1V149h-1V157h-1V158h-1V149h-1V157h-1V157h-1V156h-1V150h-1V158h-1V154h-1V154h-1V153h-1V158h-1V159h-1V159h-1V158h-1V162h-1V159h-1V160h-1V162h-1V165h-1V160h-1V161h-1V157h-1V169h-1V165h-1V165h-1V167h-1V168h-1V173h-1V174h-1V171h-1V168h-1V167h-1V172h-1V174h-1V171h-1V172h-1V169h-1V173h-1V174h-1V179h-1V166h-1V174h-1V165h-1V170h-1V171h-1V171h-1V176h-1V174h-1V171h-1V174h-1V176h-1V173h-1V173h-1V172h-1V170h-1V169h-1V174h-1V166h-1V171h-1V168h-1V172h-1V175h-1V163h-1V169h-1V167h-1V167h-1V161h-1V164h-1V163h-1V160h-1V161h-1V161h-1V160h-1V165h-1Z"/></g>
</g>
<g font-size="70.7" text-anchor="middle">
<text x="93.1" y="1233.5">10</text>
<text x="253.6" y="1233.5">20</text>
<text x="414.1" y="1233.5">30</text>
<text x="574.6" y="1233.5">40</text>
<text x="735.1" y="1233.5">50</text>
<text x="895.6" y="1233.5">60</text>
<text x="1056.1" y="1233.5">70</text>
<text x="1216.6" y="1233.5">80</text>
<text x="1377.1" y="1233.5">90</text>
</g>
<text x="793" y="1318.5" font-size="70.0" text-anchor="middle">2 Theta(°)</text>
<text transform="translate(63.5,565) rotate(-90)" font-size="69.2" text-anchor="middle">Intensitiy (a.u.)</text>
</svg></body></html>
